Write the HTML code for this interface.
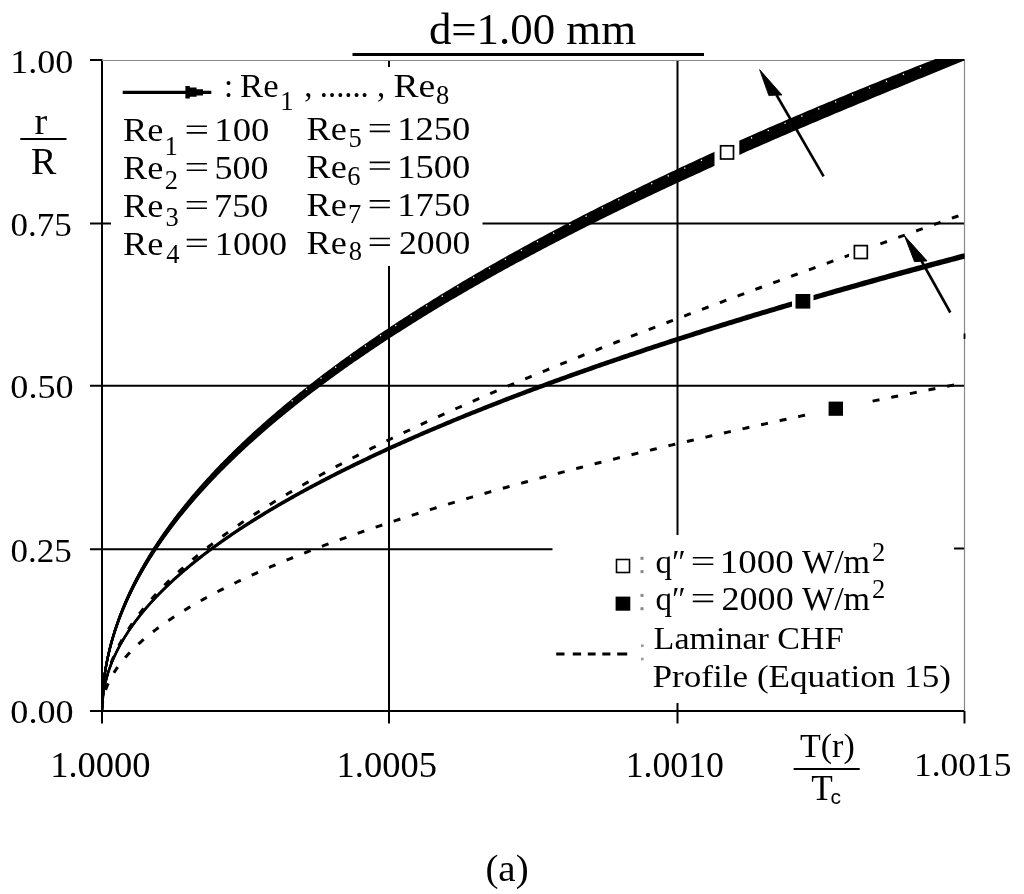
<!DOCTYPE html>
<html><head><meta charset="utf-8"><style>
html,body{margin:0;padding:0;background:#fff;overflow:hidden;width:1024px;height:894px;}
svg{display:block;will-change:transform;}
</style></head><body>
<svg width="1024" height="894" viewBox="0 0 1024 894">
<g stroke="#000" stroke-width="2" fill="none" stroke-linecap="butt">
<path d="M90,223.5 H111 M482.5,223.5 H964.5"/>
<path d="M90,385.7 H964.5"/>
<path d="M90,549.2 H552.5 M954,548.5 H964.5"/>
<path d="M90,60 H102"/>
<path d="M90,711 H964.5"/>
<path d="M102,59.5 V723.5"/>
<path d="M389,60 V67 M389,266 V723.5"/>
<path d="M677.5,60 V535 M677.5,703 V723.5"/>
<path d="M964.5,711 V723.5"/>
</g>
<path d="M102,60.5 H965 M964.5,60 V711" stroke="#888" stroke-width="1.2" fill="none"/>
<defs><clipPath id="pc"><rect x="101" y="59" width="864.5" height="653"/></clipPath></defs>
<g clip-path="url(#pc)" fill="none" stroke="#000">
<path d="M102.00,711.00 L102.01,709.38 L102.02,707.76 L102.05,706.14 L102.09,704.52 L102.13,702.90 L102.19,701.28 L102.26,699.66 L102.34,698.05 L102.44,696.43 L102.54,694.81 L102.65,693.19 L102.78,691.57 L102.91,689.95 L103.06,688.33 L103.21,686.71 L103.38,685.09 L103.56,683.47 L103.75,681.85 L103.95,680.23 L104.16,678.61 L104.38,676.99 L104.61,675.37 L104.85,673.75 L105.11,672.14 L105.37,670.52 L105.64,668.90 L105.93,667.28 L106.23,665.66 L106.53,664.04 L106.85,662.42 L107.18,660.80 L107.52,659.18 L107.87,657.56 L108.23,655.94 L108.60,654.32 L108.99,652.70 L109.38,651.08 L109.78,649.46 L110.20,647.84 L110.62,646.23 L111.06,644.61 L111.51,642.99 L111.97,641.37 L112.44,639.75 L112.92,638.13 L113.41,636.51 L113.91,634.89 L114.42,633.27 L114.94,631.65 L115.48,630.03 L116.02,628.41 L116.58,626.79 L117.14,625.17 L117.72,623.55 L118.31,621.94 L118.91,620.32 L119.51,618.70 L120.13,617.08 L120.76,615.46 L121.41,613.84 L122.06,612.22 L122.72,610.60 L123.40,608.98 L124.08,607.36 L124.78,605.74 L125.48,604.12 L126.20,602.50 L126.93,600.88 L127.66,599.26 L128.41,597.64 L129.17,596.03 L129.94,594.41 L130.73,592.79 L131.52,591.17 L132.32,589.55 L133.14,587.93 L133.96,586.31 L134.80,584.69 L135.64,583.07 L136.50,581.45 L137.37,579.83 L138.25,578.21 L139.14,576.59 L140.04,574.97 L140.95,573.35 L141.87,571.73 L142.80,570.12 L143.75,568.50 L144.70,566.88 L145.66,565.26 L146.64,563.64 L147.63,562.02 L148.62,560.40 L149.63,558.78 L150.65,557.16 L151.68,555.54 L152.72,553.92 L153.77,552.30 L154.83,550.68 L155.91,549.06 L156.99,547.44 L158.08,545.83 L159.19,544.21 L160.31,542.59 L161.43,540.97 L162.57,539.35 L163.72,537.73 L164.88,536.11 L166.05,534.49 L167.23,532.87 L168.42,531.25 L169.62,529.63 L170.83,528.01 L172.06,526.39 L173.29,524.77 L174.54,523.15 L175.79,521.53 L177.06,519.92 L178.34,518.30 L179.62,516.68 L180.92,515.06 L182.23,513.44 L183.55,511.82 L184.89,510.20 L186.23,508.58 L187.58,506.96 L188.95,505.34 L190.32,503.72 L191.71,502.10 L193.10,500.48 L194.51,498.86 L195.93,497.24 L197.35,495.62 L198.79,494.01 L200.24,492.39 L201.71,490.77 L203.18,489.15 L204.66,487.53 L206.15,485.91 L207.66,484.29 L209.17,482.67 L210.70,481.05 L212.23,479.43 L213.78,477.81 L215.34,476.19 L216.91,474.57 L218.49,472.95 L220.08,471.33 L221.68,469.71 L223.29,468.10 L224.91,466.48 L226.55,464.86 L228.19,463.24 L229.84,461.62 L231.51,460.00 L233.19,458.38 L234.87,456.76 L236.57,455.14 L238.28,453.52 L240.00,451.90 L241.73,450.28 L243.47,448.66 L245.22,447.04 L246.99,445.42 L248.76,443.81 L250.54,442.19 L252.34,440.57 L254.14,438.95 L255.96,437.33 L257.79,435.71 L259.63,434.09 L261.48,432.47 L263.34,430.85 L265.21,429.23 L267.09,427.61 L268.98,425.99 L270.88,424.37 L272.80,422.75 L274.72,421.13 L276.66,419.51 L278.60,417.90 L280.56,416.28 L282.53,414.66 L284.50,413.04 L286.49,411.42 L288.49,409.80 L290.50,408.18 L292.53,406.56 L294.56,404.94 L296.60,403.32 L298.66,401.70 L300.72,400.08 L302.80,398.46 L304.88,396.84 L306.98,395.22 L309.09,393.60 L311.20,391.99 L313.33,390.37 L315.47,388.75 L317.62,387.13 L319.79,385.51 L321.96,383.89 L324.14,382.27 L326.34,380.65 L328.54,379.03 L330.76,377.41 L332.98,375.79 L335.22,374.17 L337.47,372.55 L339.73,370.93 L342.00,369.31 L344.28,367.69 L346.57,366.07 L348.87,364.46 L351.18,362.84 L353.50,361.22 L355.84,359.60 L358.18,357.98 L360.54,356.36 L362.91,354.74 L365.28,353.12 L367.67,351.50 L370.07,349.88 L372.48,348.26 L374.90,346.64 L377.33,345.02 L379.77,343.40 L382.23,341.78 L384.69,340.16 L387.16,338.54 L389.65,336.92 L392.14,335.30 L394.65,333.69 L397.17,332.07 L399.70,330.45 L402.24,328.83 L404.79,327.21 L407.35,325.59 L409.92,323.97 L412.50,322.35 L415.09,320.73 L417.70,319.11 L420.31,317.49 L422.94,315.87 L425.57,314.25 L428.22,312.63 L430.88,311.01 L433.55,309.39 L436.22,307.77 L438.91,306.15 L441.61,304.53 L444.33,302.91 L447.05,301.29 L449.78,299.67 L452.53,298.05 L455.28,296.43 L458.05,294.81 L460.82,293.19 L463.61,291.57 L466.41,289.95 L469.21,288.33 L472.03,286.71 L474.86,285.09 L477.71,283.47 L480.56,281.85 L483.42,280.23 L486.29,278.61 L489.18,276.99 L492.07,275.37 L494.98,273.75 L497.89,272.13 L500.82,270.51 L503.76,268.89 L506.71,267.27 L509.67,265.65 L512.64,264.02 L515.62,262.40 L518.61,260.78 L521.61,259.16 L524.62,257.54 L527.65,255.92 L530.68,254.30 L533.73,252.68 L536.79,251.06 L539.85,249.43 L542.93,247.81 L546.02,246.19 L549.12,244.57 L552.23,242.95 L555.35,241.33 L558.48,239.70 L561.63,238.08 L564.78,236.46 L567.94,234.84 L571.12,233.21 L574.31,231.59 L577.50,229.97 L580.71,228.34 L583.93,226.72 L587.16,225.10 L590.40,223.47 L593.65,221.85 L596.91,220.23 L600.18,218.60 L603.46,216.98 L606.76,215.36 L610.06,213.73 L613.38,212.11 L616.70,210.48 L620.04,208.86 L623.39,207.23 L626.75,205.60 L630.11,203.98 L633.49,202.35 L636.88,200.73 L640.29,199.10 L643.70,197.47 L647.12,195.84 L650.56,194.22 L654.00,192.59 L657.46,190.96 L660.92,189.33 L664.40,187.70 L667.89,186.07 L671.38,184.44 L674.89,182.81 L678.41,181.18 L681.94,179.55 L685.49,177.92 L689.04,176.29 L692.60,174.66 L696.18,173.03 L699.76,171.39 L703.36,169.76 L706.96,168.12 L710.58,166.49 L714.21,164.85 L717.85,163.22 L721.50,161.58 L725.16,159.94 L728.83,158.31 L732.51,156.67 L736.20,155.03 L739.90,153.39 L743.62,151.75 L747.34,150.11 L751.08,148.47 L754.83,146.82 L758.58,145.18 L762.35,143.53 L766.13,141.89 L769.92,140.24 L773.72,138.60 L777.53,136.95 L781.35,135.30 L785.19,133.65 L789.03,132.00 L792.88,130.34 L796.75,128.69 L800.62,127.04 L804.51,125.38 L808.41,123.72 L812.32,122.07 L816.24,120.41 L820.17,118.74 L824.11,117.08 L828.06,115.42 L832.02,113.75 L835.99,112.09 L839.98,110.42 L843.97,108.75 L847.98,107.08 L851.99,105.40 L856.02,103.73 L860.06,102.05 L864.10,100.37 L868.16,98.69 L872.23,97.01 L876.31,95.32 L880.41,93.64 L884.51,91.95 L888.62,90.26 L892.75,88.56 L896.88,86.87 L901.03,85.17 L905.18,83.47 L909.35,81.76 L913.53,80.06 L917.71,78.35 L921.91,76.64 L926.12,74.92 L930.34,73.21 L934.58,71.49 L938.82,69.76 L943.07,68.04 L947.34,66.30 L951.61,64.57 L955.90,62.83 L960.19,61.09 L964.50,59.35" stroke-width="2.2"/>
<path d="M102.00,711.00 L102.01,709.38 L102.02,707.75 L102.05,706.13 L102.09,704.50 L102.13,702.88 L102.19,701.25 L102.26,699.63 L102.34,698.00 L102.44,696.38 L102.54,694.76 L102.65,693.13 L102.78,691.51 L102.91,689.88 L103.06,688.26 L103.21,686.63 L103.38,685.01 L103.56,683.38 L103.75,681.76 L103.95,680.13 L104.16,678.51 L104.38,676.89 L104.61,675.26 L104.85,673.64 L105.11,672.01 L105.37,670.39 L105.64,668.76 L105.93,667.14 L106.23,665.51 L106.53,663.89 L106.85,662.27 L107.18,660.64 L107.52,659.02 L107.87,657.39 L108.23,655.77 L108.60,654.14 L108.99,652.52 L109.38,650.89 L109.78,649.27 L110.20,647.65 L110.62,646.02 L111.06,644.40 L111.51,642.77 L111.97,641.15 L112.44,639.52 L112.92,637.90 L113.41,636.27 L113.91,634.65 L114.42,633.03 L114.94,631.40 L115.48,629.78 L116.02,628.15 L116.58,626.53 L117.14,624.90 L117.72,623.28 L118.31,621.65 L118.91,620.03 L119.51,618.40 L120.13,616.78 L120.76,615.16 L121.41,613.53 L122.06,611.91 L122.72,610.28 L123.40,608.66 L124.08,607.03 L124.78,605.41 L125.48,603.78 L126.20,602.16 L126.93,600.54 L127.66,598.91 L128.41,597.29 L129.17,595.66 L129.94,594.04 L130.73,592.41 L131.52,590.79 L132.32,589.16 L133.14,587.54 L133.96,585.92 L134.80,584.29 L135.64,582.67 L136.50,581.04 L137.37,579.42 L138.25,577.79 L139.14,576.17 L140.04,574.54 L140.95,572.92 L141.87,571.29 L142.80,569.67 L143.75,568.05 L144.70,566.42 L145.66,564.80 L146.64,563.17 L147.63,561.55 L148.62,559.92 L149.63,558.30 L150.65,556.67 L151.68,555.05 L152.72,553.43 L153.77,551.80 L154.83,550.18 L155.91,548.55 L156.99,546.93 L158.08,545.30 L159.19,543.68 L160.31,542.05 L161.43,540.43 L162.57,538.81 L163.72,537.18 L164.88,535.56 L166.05,533.93 L167.23,532.31 L168.42,530.68 L169.62,529.06 L170.83,527.43 L172.06,525.81 L173.29,524.19 L174.54,522.56 L175.79,520.94 L177.06,519.31 L178.34,517.69 L179.62,516.06 L180.92,514.44 L182.23,512.81 L183.55,511.19 L184.89,509.56 L186.23,507.94 L187.58,506.32 L188.95,504.69 L190.32,503.07 L191.71,501.44 L193.10,499.82 L194.51,498.19 L195.93,496.57 L197.35,494.94 L198.79,493.32 L200.24,491.70 L201.71,490.07 L203.18,488.45 L204.66,486.82 L206.15,485.20 L207.66,483.57 L209.17,481.95 L210.70,480.32 L212.23,478.70 L213.78,477.08 L215.34,475.45 L216.91,473.83 L218.49,472.20 L220.08,470.58 L221.68,468.95 L223.29,467.33 L224.91,465.70 L226.55,464.08 L228.19,462.45 L229.84,460.83 L231.51,459.21 L233.19,457.58 L234.87,455.96 L236.57,454.33 L238.28,452.71 L240.00,451.08 L241.73,449.46 L243.47,447.83 L245.22,446.21 L246.99,444.59 L248.76,442.96 L250.54,441.34 L252.34,439.71 L254.14,438.09 L255.96,436.46 L257.79,434.84 L259.63,433.21 L261.48,431.59 L263.34,429.97 L265.21,428.34 L267.09,426.72 L268.98,425.09 L270.88,423.47 L272.80,421.84 L274.72,420.22 L276.66,418.59 L278.60,416.97 L280.56,415.34 L282.53,413.72 L284.50,412.10 L286.49,410.47 L288.49,408.85 L290.50,407.22 L292.53,405.60 L294.56,403.97 L296.60,402.35 L298.66,400.72 L300.72,399.10 L302.80,397.48 L304.88,395.85 L306.98,394.23 L309.09,392.60 L311.20,390.98 L313.33,389.35 L315.47,387.73 L317.62,386.10 L319.79,384.48 L321.96,382.86 L324.14,381.23 L326.34,379.61 L328.54,377.98 L330.76,376.36 L332.98,374.73 L335.22,373.11 L337.47,371.48 L339.73,369.86 L342.00,368.23 L344.28,366.61 L346.57,364.99 L348.87,363.36 L351.18,361.74 L353.50,360.11 L355.84,358.49 L358.18,356.86 L360.54,355.24 L362.91,353.61 L365.28,351.99 L367.67,350.36 L370.07,348.74 L372.48,347.12 L374.90,345.49 L377.33,343.87 L379.77,342.24 L382.23,340.62 L384.69,338.99 L387.16,337.37 L389.65,335.74 L392.14,334.12 L394.65,332.49 L397.17,330.87 L399.70,329.24 L402.24,327.62 L404.79,326.00 L407.35,324.37 L409.92,322.75 L412.50,321.12 L415.09,319.50 L417.70,317.87 L420.31,316.25 L422.94,314.62 L425.57,313.00 L428.22,311.37 L430.88,309.75 L433.55,308.12 L436.22,306.50 L438.91,304.87 L441.61,303.25 L444.33,301.62 L447.05,300.00 L449.78,298.37 L452.53,296.75 L455.28,295.12 L458.05,293.50 L460.82,291.87 L463.61,290.25 L466.41,288.62 L469.21,287.00 L472.03,285.37 L474.86,283.75 L477.71,282.12 L480.56,280.50 L483.42,278.87 L486.29,277.25 L489.18,275.62 L492.07,274.00 L494.98,272.37 L497.89,270.75 L500.82,269.12 L503.76,267.49 L506.71,265.87 L509.67,264.24 L512.64,262.62 L515.62,260.99 L518.61,259.37 L521.61,257.74 L524.62,256.11 L527.65,254.49 L530.68,252.86 L533.73,251.24 L536.79,249.61 L539.85,247.98 L542.93,246.36 L546.02,244.73 L549.12,243.10 L552.23,241.48 L555.35,239.85 L558.48,238.22 L561.63,236.60 L564.78,234.97 L567.94,233.34 L571.12,231.72 L574.31,230.09 L577.50,228.46 L580.71,226.83 L583.93,225.21 L587.16,223.58 L590.40,221.95 L593.65,220.32 L596.91,218.69 L600.18,217.06 L603.46,215.44 L606.76,213.81 L610.06,212.18 L613.38,210.55 L616.70,208.92 L620.04,207.29 L623.39,205.66 L626.75,204.03 L630.11,202.40 L633.49,200.77 L636.88,199.14 L640.29,197.51 L643.70,195.88 L647.12,194.25 L650.56,192.61 L654.00,190.98 L657.46,189.35 L660.92,187.72 L664.40,186.09 L667.89,184.45 L671.38,182.82 L674.89,181.19 L678.41,179.55 L681.94,177.92 L685.49,176.28 L689.04,174.65 L692.60,173.01 L696.18,171.38 L699.76,169.74 L703.36,168.10 L706.96,166.47 L710.58,164.83 L714.21,163.19 L717.85,161.55 L721.50,159.91 L725.16,158.27 L728.83,156.63 L732.51,154.99 L736.20,153.35 L739.90,151.71 L743.62,150.07 L747.34,148.42 L751.08,146.78 L754.83,145.13 L758.58,143.49 L762.35,141.84 L766.13,140.20 L769.92,138.55 L773.72,136.90 L777.53,135.25 L781.35,133.60 L785.19,131.95 L789.03,130.30 L792.88,128.65 L796.75,126.99 L800.62,125.34 L804.51,123.68 L808.41,122.02 L812.32,120.37 L816.24,118.71 L820.17,117.05 L824.11,115.39 L828.06,113.72 L832.02,112.06 L835.99,110.39 L839.98,108.73 L843.97,107.06 L847.98,105.39 L851.99,103.72 L856.02,102.05 L860.06,100.37 L864.10,98.70 L868.16,97.02 L872.23,95.34 L876.31,93.66 L880.41,91.98 L884.51,90.30 L888.62,88.61 L892.75,86.92 L896.88,85.23 L901.03,83.54 L905.18,81.84 L909.35,80.15 L913.53,78.45 L917.71,76.75 L921.91,75.04 L926.12,73.34 L930.34,71.63 L934.58,69.92 L938.82,68.21 L943.07,66.49 L947.34,64.77 L951.61,63.05 L955.90,61.32 L960.19,59.59 L964.50,57.86" stroke-width="2.2"/>
<path d="M102.00,711.00 L102.01,709.37 L102.02,707.74 L102.05,706.11 L102.09,704.48 L102.13,702.85 L102.19,701.22 L102.26,699.59 L102.34,697.96 L102.44,696.33 L102.54,694.70 L102.65,693.07 L102.78,691.44 L102.91,689.82 L103.06,688.19 L103.21,686.56 L103.38,684.93 L103.56,683.30 L103.75,681.67 L103.95,680.04 L104.16,678.41 L104.38,676.78 L104.61,675.15 L104.85,673.52 L105.11,671.89 L105.37,670.26 L105.64,668.63 L105.93,667.00 L106.23,665.37 L106.53,663.74 L106.85,662.11 L107.18,660.48 L107.52,658.85 L107.87,657.22 L108.23,655.59 L108.60,653.96 L108.99,652.33 L109.38,650.71 L109.78,649.08 L110.20,647.45 L110.62,645.82 L111.06,644.19 L111.51,642.56 L111.97,640.93 L112.44,639.30 L112.92,637.67 L113.41,636.04 L113.91,634.41 L114.42,632.78 L114.94,631.15 L115.48,629.52 L116.02,627.89 L116.58,626.26 L117.14,624.63 L117.72,623.00 L118.31,621.37 L118.91,619.74 L119.51,618.11 L120.13,616.48 L120.76,614.85 L121.41,613.22 L122.06,611.59 L122.72,609.97 L123.40,608.34 L124.08,606.71 L124.78,605.08 L125.48,603.45 L126.20,601.82 L126.93,600.19 L127.66,598.56 L128.41,596.93 L129.17,595.30 L129.94,593.67 L130.73,592.04 L131.52,590.41 L132.32,588.78 L133.14,587.15 L133.96,585.52 L134.80,583.89 L135.64,582.26 L136.50,580.63 L137.37,579.00 L138.25,577.37 L139.14,575.74 L140.04,574.11 L140.95,572.48 L141.87,570.86 L142.80,569.23 L143.75,567.60 L144.70,565.97 L145.66,564.34 L146.64,562.71 L147.63,561.08 L148.62,559.45 L149.63,557.82 L150.65,556.19 L151.68,554.56 L152.72,552.93 L153.77,551.30 L154.83,549.67 L155.91,548.04 L156.99,546.41 L158.08,544.78 L159.19,543.15 L160.31,541.52 L161.43,539.89 L162.57,538.26 L163.72,536.63 L164.88,535.00 L166.05,533.37 L167.23,531.74 L168.42,530.12 L169.62,528.49 L170.83,526.86 L172.06,525.23 L173.29,523.60 L174.54,521.97 L175.79,520.34 L177.06,518.71 L178.34,517.08 L179.62,515.45 L180.92,513.82 L182.23,512.19 L183.55,510.56 L184.89,508.93 L186.23,507.30 L187.58,505.67 L188.95,504.04 L190.32,502.41 L191.71,500.78 L193.10,499.15 L194.51,497.52 L195.93,495.89 L197.35,494.26 L198.79,492.63 L200.24,491.01 L201.71,489.38 L203.18,487.75 L204.66,486.12 L206.15,484.49 L207.66,482.86 L209.17,481.23 L210.70,479.60 L212.23,477.97 L213.78,476.34 L215.34,474.71 L216.91,473.08 L218.49,471.45 L220.08,469.82 L221.68,468.19 L223.29,466.56 L224.91,464.93 L226.55,463.30 L228.19,461.67 L229.84,460.04 L231.51,458.41 L233.19,456.78 L234.87,455.15 L236.57,453.52 L238.28,451.89 L240.00,450.27 L241.73,448.64 L243.47,447.01 L245.22,445.38 L246.99,443.75 L248.76,442.12 L250.54,440.49 L252.34,438.86 L254.14,437.23 L255.96,435.60 L257.79,433.97 L259.63,432.34 L261.48,430.71 L263.34,429.08 L265.21,427.45 L267.09,425.82 L268.98,424.19 L270.88,422.56 L272.80,420.93 L274.72,419.30 L276.66,417.67 L278.60,416.04 L280.56,414.41 L282.53,412.78 L284.50,411.15 L286.49,409.53 L288.49,407.90 L290.50,406.27 L292.53,404.64 L294.56,403.01 L296.60,401.38 L298.66,399.75 L300.72,398.12 L302.80,396.49 L304.88,394.86 L306.98,393.23 L309.09,391.60 L311.20,389.97 L313.33,388.34 L315.47,386.71 L317.62,385.08 L319.79,383.45 L321.96,381.82 L324.14,380.19 L326.34,378.56 L328.54,376.93 L330.76,375.30 L332.98,373.67 L335.22,372.04 L337.47,370.41 L339.73,368.78 L342.00,367.16 L344.28,365.53 L346.57,363.90 L348.87,362.27 L351.18,360.64 L353.50,359.01 L355.84,357.38 L358.18,355.75 L360.54,354.12 L362.91,352.49 L365.28,350.86 L367.67,349.23 L370.07,347.60 L372.48,345.97 L374.90,344.34 L377.33,342.71 L379.77,341.08 L382.23,339.45 L384.69,337.82 L387.16,336.19 L389.65,334.56 L392.14,332.93 L394.65,331.30 L397.17,329.67 L399.70,328.04 L402.24,326.41 L404.79,324.78 L407.35,323.15 L409.92,321.52 L412.50,319.89 L415.09,318.26 L417.70,316.63 L420.31,315.00 L422.94,313.37 L425.57,311.75 L428.22,310.12 L430.88,308.49 L433.55,306.86 L436.22,305.23 L438.91,303.60 L441.61,301.97 L444.33,300.34 L447.05,298.71 L449.78,297.08 L452.53,295.45 L455.28,293.82 L458.05,292.19 L460.82,290.56 L463.61,288.93 L466.41,287.30 L469.21,285.67 L472.03,284.04 L474.86,282.41 L477.71,280.78 L480.56,279.14 L483.42,277.51 L486.29,275.88 L489.18,274.25 L492.07,272.62 L494.98,270.99 L497.89,269.36 L500.82,267.73 L503.76,266.10 L506.71,264.47 L509.67,262.84 L512.64,261.21 L515.62,259.58 L518.61,257.95 L521.61,256.32 L524.62,254.69 L527.65,253.06 L530.68,251.43 L533.73,249.79 L536.79,248.16 L539.85,246.53 L542.93,244.90 L546.02,243.27 L549.12,241.64 L552.23,240.01 L555.35,238.38 L558.48,236.74 L561.63,235.11 L564.78,233.48 L567.94,231.85 L571.12,230.22 L574.31,228.58 L577.50,226.95 L580.71,225.32 L583.93,223.69 L587.16,222.06 L590.40,220.42 L593.65,218.79 L596.91,217.16 L600.18,215.53 L603.46,213.89 L606.76,212.26 L610.06,210.63 L613.38,208.99 L616.70,207.36 L620.04,205.72 L623.39,204.09 L626.75,202.46 L630.11,200.82 L633.49,199.19 L636.88,197.55 L640.29,195.92 L643.70,194.28 L647.12,192.65 L650.56,191.01 L654.00,189.38 L657.46,187.74 L660.92,186.10 L664.40,184.47 L667.89,182.83 L671.38,181.19 L674.89,179.56 L678.41,177.92 L681.94,176.28 L685.49,174.64 L689.04,173.01 L692.60,171.37 L696.18,169.73 L699.76,168.09 L703.36,166.45 L706.96,164.81 L710.58,163.17 L714.21,161.53 L717.85,159.89 L721.50,158.24 L725.16,156.60 L728.83,154.96 L732.51,153.32 L736.20,151.67 L739.90,150.03 L743.62,148.38 L747.34,146.74 L751.08,145.09 L754.83,143.45 L758.58,141.80 L762.35,140.15 L766.13,138.50 L769.92,136.85 L773.72,135.20 L777.53,133.55 L781.35,131.90 L785.19,130.25 L789.03,128.60 L792.88,126.95 L796.75,125.29 L800.62,123.64 L804.51,121.98 L808.41,120.33 L812.32,118.67 L816.24,117.01 L820.17,115.35 L824.11,113.69 L828.06,112.03 L832.02,110.37 L835.99,108.70 L839.98,107.04 L843.97,105.37 L847.98,103.71 L851.99,102.04 L856.02,100.37 L860.06,98.70 L864.10,97.03 L868.16,95.35 L872.23,93.68 L876.31,92.00 L880.41,90.32 L884.51,88.64 L888.62,86.96 L892.75,85.28 L896.88,83.60 L901.03,81.91 L905.18,80.22 L909.35,78.53 L913.53,76.84 L917.71,75.15 L921.91,73.45 L926.12,71.75 L930.34,70.05 L934.58,68.35 L938.82,66.65 L943.07,64.94 L947.34,63.23 L951.61,61.52 L955.90,59.81 L960.19,58.09 L964.50,56.37" stroke-width="2.2"/>
<path d="M102.00,711.00 L102.01,709.37 L102.02,707.73 L102.05,706.10 L102.09,704.46 L102.13,702.83 L102.19,701.19 L102.26,699.56 L102.34,697.92 L102.44,696.29 L102.54,694.65 L102.65,693.02 L102.78,691.38 L102.91,689.75 L103.06,688.11 L103.21,686.48 L103.38,684.84 L103.56,683.21 L103.75,681.58 L103.95,679.94 L104.16,678.31 L104.38,676.67 L104.61,675.04 L104.85,673.40 L105.11,671.77 L105.37,670.13 L105.64,668.50 L105.93,666.86 L106.23,665.23 L106.53,663.59 L106.85,661.96 L107.18,660.32 L107.52,658.69 L107.87,657.05 L108.23,655.42 L108.60,653.79 L108.99,652.15 L109.38,650.52 L109.78,648.88 L110.20,647.25 L110.62,645.61 L111.06,643.98 L111.51,642.34 L111.97,640.71 L112.44,639.07 L112.92,637.44 L113.41,635.80 L113.91,634.17 L114.42,632.53 L114.94,630.90 L115.48,629.26 L116.02,627.63 L116.58,626.00 L117.14,624.36 L117.72,622.73 L118.31,621.09 L118.91,619.46 L119.51,617.82 L120.13,616.19 L120.76,614.55 L121.41,612.92 L122.06,611.28 L122.72,609.65 L123.40,608.01 L124.08,606.38 L124.78,604.74 L125.48,603.11 L126.20,601.47 L126.93,599.84 L127.66,598.21 L128.41,596.57 L129.17,594.94 L129.94,593.30 L130.73,591.67 L131.52,590.03 L132.32,588.40 L133.14,586.76 L133.96,585.13 L134.80,583.49 L135.64,581.86 L136.50,580.22 L137.37,578.59 L138.25,576.95 L139.14,575.32 L140.04,573.68 L140.95,572.05 L141.87,570.42 L142.80,568.78 L143.75,567.15 L144.70,565.51 L145.66,563.88 L146.64,562.24 L147.63,560.61 L148.62,558.97 L149.63,557.34 L150.65,555.70 L151.68,554.07 L152.72,552.43 L153.77,550.80 L154.83,549.16 L155.91,547.53 L156.99,545.89 L158.08,544.26 L159.19,542.63 L160.31,540.99 L161.43,539.36 L162.57,537.72 L163.72,536.09 L164.88,534.45 L166.05,532.82 L167.23,531.18 L168.42,529.55 L169.62,527.91 L170.83,526.28 L172.06,524.64 L173.29,523.01 L174.54,521.37 L175.79,519.74 L177.06,518.10 L178.34,516.47 L179.62,514.84 L180.92,513.20 L182.23,511.57 L183.55,509.93 L184.89,508.30 L186.23,506.66 L187.58,505.03 L188.95,503.39 L190.32,501.76 L191.71,500.12 L193.10,498.49 L194.51,496.85 L195.93,495.22 L197.35,493.58 L198.79,491.95 L200.24,490.31 L201.71,488.68 L203.18,487.05 L204.66,485.41 L206.15,483.78 L207.66,482.14 L209.17,480.51 L210.70,478.87 L212.23,477.24 L213.78,475.60 L215.34,473.97 L216.91,472.33 L218.49,470.70 L220.08,469.06 L221.68,467.43 L223.29,465.79 L224.91,464.16 L226.55,462.52 L228.19,460.89 L229.84,459.26 L231.51,457.62 L233.19,455.99 L234.87,454.35 L236.57,452.72 L238.28,451.08 L240.00,449.45 L241.73,447.81 L243.47,446.18 L245.22,444.54 L246.99,442.91 L248.76,441.27 L250.54,439.64 L252.34,438.00 L254.14,436.37 L255.96,434.73 L257.79,433.10 L259.63,431.46 L261.48,429.83 L263.34,428.20 L265.21,426.56 L267.09,424.93 L268.98,423.29 L270.88,421.66 L272.80,420.02 L274.72,418.39 L276.66,416.75 L278.60,415.12 L280.56,413.48 L282.53,411.85 L284.50,410.21 L286.49,408.58 L288.49,406.94 L290.50,405.31 L292.53,403.67 L294.56,402.04 L296.60,400.41 L298.66,398.77 L300.72,397.14 L302.80,395.50 L304.88,393.87 L306.98,392.23 L309.09,390.60 L311.20,388.96 L313.33,387.33 L315.47,385.69 L317.62,384.06 L319.79,382.42 L321.96,380.79 L324.14,379.15 L326.34,377.52 L328.54,375.88 L330.76,374.25 L332.98,372.62 L335.22,370.98 L337.47,369.35 L339.73,367.71 L342.00,366.08 L344.28,364.44 L346.57,362.81 L348.87,361.17 L351.18,359.54 L353.50,357.90 L355.84,356.27 L358.18,354.63 L360.54,353.00 L362.91,351.36 L365.28,349.73 L367.67,348.09 L370.07,346.46 L372.48,344.82 L374.90,343.19 L377.33,341.55 L379.77,339.92 L382.23,338.29 L384.69,336.65 L387.16,335.02 L389.65,333.38 L392.14,331.75 L394.65,330.11 L397.17,328.48 L399.70,326.84 L402.24,325.21 L404.79,323.57 L407.35,321.94 L409.92,320.30 L412.50,318.67 L415.09,317.03 L417.70,315.40 L420.31,313.76 L422.94,312.13 L425.57,310.49 L428.22,308.86 L430.88,307.22 L433.55,305.59 L436.22,303.95 L438.91,302.32 L441.61,300.68 L444.33,299.05 L447.05,297.41 L449.78,295.78 L452.53,294.14 L455.28,292.51 L458.05,290.87 L460.82,289.24 L463.61,287.60 L466.41,285.97 L469.21,284.33 L472.03,282.70 L474.86,281.06 L477.71,279.43 L480.56,277.79 L483.42,276.16 L486.29,274.52 L489.18,272.89 L492.07,271.25 L494.98,269.62 L497.89,267.98 L500.82,266.34 L503.76,264.71 L506.71,263.07 L509.67,261.44 L512.64,259.80 L515.62,258.17 L518.61,256.53 L521.61,254.90 L524.62,253.26 L527.65,251.62 L530.68,249.99 L533.73,248.35 L536.79,246.72 L539.85,245.08 L542.93,243.45 L546.02,241.81 L549.12,240.17 L552.23,238.54 L555.35,236.90 L558.48,235.26 L561.63,233.63 L564.78,231.99 L567.94,230.36 L571.12,228.72 L574.31,227.08 L577.50,225.45 L580.71,223.81 L583.93,222.17 L587.16,220.53 L590.40,218.90 L593.65,217.26 L596.91,215.62 L600.18,213.99 L603.46,212.35 L606.76,210.71 L610.06,209.07 L613.38,207.44 L616.70,205.80 L620.04,204.16 L623.39,202.52 L626.75,200.88 L630.11,199.24 L633.49,197.61 L636.88,195.97 L640.29,194.33 L643.70,192.69 L647.12,191.05 L650.56,189.41 L654.00,187.77 L657.46,186.13 L660.92,184.49 L664.40,182.85 L667.89,181.21 L671.38,179.57 L674.89,177.93 L678.41,176.29 L681.94,174.65 L685.49,173.01 L689.04,171.36 L692.60,169.72 L696.18,168.08 L699.76,166.44 L703.36,164.79 L706.96,163.15 L710.58,161.51 L714.21,159.86 L717.85,158.22 L721.50,156.57 L725.16,154.93 L728.83,153.28 L732.51,151.64 L736.20,149.99 L739.90,148.35 L743.62,146.70 L747.34,145.05 L751.08,143.40 L754.83,141.76 L758.58,140.11 L762.35,138.46 L766.13,136.81 L769.92,135.16 L773.72,133.51 L777.53,131.86 L781.35,130.21 L785.19,128.55 L789.03,126.90 L792.88,125.25 L796.75,123.59 L800.62,121.94 L804.51,120.28 L808.41,118.63 L812.32,116.97 L816.24,115.31 L820.17,113.65 L824.11,111.99 L828.06,110.33 L832.02,108.67 L835.99,107.01 L839.98,105.35 L843.97,103.68 L847.98,102.02 L851.99,100.35 L856.02,98.69 L860.06,97.02 L864.10,95.35 L868.16,93.68 L872.23,92.01 L876.31,90.34 L880.41,88.67 L884.51,86.99 L888.62,85.32 L892.75,83.64 L896.88,81.96 L901.03,80.28 L905.18,78.60 L909.35,76.92 L913.53,75.23 L917.71,73.55 L921.91,71.86 L926.12,70.17 L930.34,68.48 L934.58,66.79 L938.82,65.09 L943.07,63.40 L947.34,61.70 L951.61,60.00 L955.90,58.30 L960.19,56.59 L964.50,54.88" stroke-width="2.2"/>
<path d="M102.00,711.00 L102.01,709.36 L102.02,707.72 L102.05,706.08 L102.09,704.44 L102.13,702.80 L102.19,701.16 L102.26,699.52 L102.34,697.88 L102.44,696.24 L102.54,694.60 L102.65,692.96 L102.78,691.32 L102.91,689.68 L103.06,688.04 L103.21,686.40 L103.38,684.76 L103.56,683.12 L103.75,681.48 L103.95,679.84 L104.16,678.20 L104.38,676.56 L104.61,674.92 L104.85,673.28 L105.11,671.64 L105.37,670.00 L105.64,668.36 L105.93,666.72 L106.23,665.08 L106.53,663.45 L106.85,661.81 L107.18,660.17 L107.52,658.53 L107.87,656.89 L108.23,655.25 L108.60,653.61 L108.99,651.97 L109.38,650.33 L109.78,648.69 L110.20,647.05 L110.62,645.41 L111.06,643.77 L111.51,642.13 L111.97,640.49 L112.44,638.85 L112.92,637.21 L113.41,635.57 L113.91,633.93 L114.42,632.29 L114.94,630.65 L115.48,629.01 L116.02,627.37 L116.58,625.73 L117.14,624.09 L117.72,622.45 L118.31,620.81 L118.91,619.17 L119.51,617.53 L120.13,615.89 L120.76,614.25 L121.41,612.61 L122.06,610.97 L122.72,609.33 L123.40,607.69 L124.08,606.05 L124.78,604.41 L125.48,602.77 L126.20,601.13 L126.93,599.49 L127.66,597.85 L128.41,596.21 L129.17,594.57 L129.94,592.93 L130.73,591.29 L131.52,589.65 L132.32,588.01 L133.14,586.37 L133.96,584.73 L134.80,583.09 L135.64,581.45 L136.50,579.81 L137.37,578.17 L138.25,576.53 L139.14,574.89 L140.04,573.25 L140.95,571.62 L141.87,569.98 L142.80,568.34 L143.75,566.70 L144.70,565.06 L145.66,563.42 L146.64,561.78 L147.63,560.14 L148.62,558.50 L149.63,556.86 L150.65,555.22 L151.68,553.58 L152.72,551.94 L153.77,550.30 L154.83,548.66 L155.91,547.02 L156.99,545.38 L158.08,543.74 L159.19,542.10 L160.31,540.46 L161.43,538.82 L162.57,537.18 L163.72,535.54 L164.88,533.90 L166.05,532.26 L167.23,530.62 L168.42,528.98 L169.62,527.34 L170.83,525.70 L172.06,524.06 L173.29,522.42 L174.54,520.78 L175.79,519.14 L177.06,517.50 L178.34,515.86 L179.62,514.22 L180.92,512.58 L182.23,510.94 L183.55,509.30 L184.89,507.66 L186.23,506.02 L187.58,504.38 L188.95,502.74 L190.32,501.10 L191.71,499.46 L193.10,497.82 L194.51,496.18 L195.93,494.54 L197.35,492.90 L198.79,491.26 L200.24,489.62 L201.71,487.98 L203.18,486.34 L204.66,484.70 L206.15,483.06 L207.66,481.42 L209.17,479.79 L210.70,478.15 L212.23,476.51 L213.78,474.87 L215.34,473.23 L216.91,471.59 L218.49,469.95 L220.08,468.31 L221.68,466.67 L223.29,465.03 L224.91,463.39 L226.55,461.75 L228.19,460.11 L229.84,458.47 L231.51,456.83 L233.19,455.19 L234.87,453.55 L236.57,451.91 L238.28,450.27 L240.00,448.63 L241.73,446.99 L243.47,445.35 L245.22,443.71 L246.99,442.07 L248.76,440.43 L250.54,438.79 L252.34,437.15 L254.14,435.51 L255.96,433.87 L257.79,432.23 L259.63,430.59 L261.48,428.95 L263.34,427.31 L265.21,425.67 L267.09,424.03 L268.98,422.39 L270.88,420.75 L272.80,419.11 L274.72,417.47 L276.66,415.83 L278.60,414.19 L280.56,412.55 L282.53,410.91 L284.50,409.27 L286.49,407.63 L288.49,405.99 L290.50,404.35 L292.53,402.71 L294.56,401.07 L296.60,399.43 L298.66,397.79 L300.72,396.15 L302.80,394.51 L304.88,392.87 L306.98,391.23 L309.09,389.59 L311.20,387.95 L313.33,386.31 L315.47,384.68 L317.62,383.04 L319.79,381.40 L321.96,379.76 L324.14,378.12 L326.34,376.48 L328.54,374.84 L330.76,373.20 L332.98,371.56 L335.22,369.92 L337.47,368.28 L339.73,366.64 L342.00,365.00 L344.28,363.36 L346.57,361.72 L348.87,360.08 L351.18,358.44 L353.50,356.80 L355.84,355.16 L358.18,353.52 L360.54,351.88 L362.91,350.24 L365.28,348.60 L367.67,346.96 L370.07,345.32 L372.48,343.68 L374.90,342.04 L377.33,340.40 L379.77,338.76 L382.23,337.12 L384.69,335.48 L387.16,333.84 L389.65,332.20 L392.14,330.56 L394.65,328.92 L397.17,327.28 L399.70,325.64 L402.24,324.00 L404.79,322.36 L407.35,320.72 L409.92,319.08 L412.50,317.44 L415.09,315.80 L417.70,314.16 L420.31,312.52 L422.94,310.88 L425.57,309.24 L428.22,307.60 L430.88,305.96 L433.55,304.32 L436.22,302.68 L438.91,301.04 L441.61,299.40 L444.33,297.76 L447.05,296.12 L449.78,294.48 L452.53,292.84 L455.28,291.20 L458.05,289.56 L460.82,287.92 L463.61,286.28 L466.41,284.64 L469.21,283.00 L472.03,281.36 L474.86,279.72 L477.71,278.08 L480.56,276.44 L483.42,274.80 L486.29,273.16 L489.18,271.52 L492.07,269.88 L494.98,268.24 L497.89,266.60 L500.82,264.96 L503.76,263.32 L506.71,261.68 L509.67,260.04 L512.64,258.40 L515.62,256.76 L518.61,255.11 L521.61,253.47 L524.62,251.83 L527.65,250.19 L530.68,248.55 L533.73,246.91 L536.79,245.27 L539.85,243.63 L542.93,241.99 L546.02,240.35 L549.12,238.71 L552.23,237.07 L555.35,235.43 L558.48,233.78 L561.63,232.14 L564.78,230.50 L567.94,228.86 L571.12,227.22 L574.31,225.58 L577.50,223.94 L580.71,222.30 L583.93,220.65 L587.16,219.01 L590.40,217.37 L593.65,215.73 L596.91,214.09 L600.18,212.45 L603.46,210.80 L606.76,209.16 L610.06,207.52 L613.38,205.88 L616.70,204.24 L620.04,202.59 L623.39,200.95 L626.75,199.31 L630.11,197.67 L633.49,196.02 L636.88,194.38 L640.29,192.74 L643.70,191.09 L647.12,189.45 L650.56,187.81 L654.00,186.16 L657.46,184.52 L660.92,182.88 L664.40,181.23 L667.89,179.59 L671.38,177.95 L674.89,176.30 L678.41,174.66 L681.94,173.01 L685.49,171.37 L689.04,169.72 L692.60,168.08 L696.18,166.43 L699.76,164.78 L703.36,163.14 L706.96,161.49 L710.58,159.85 L714.21,158.20 L717.85,156.55 L721.50,154.91 L725.16,153.26 L728.83,151.61 L732.51,149.96 L736.20,148.31 L739.90,146.67 L743.62,145.02 L747.34,143.37 L751.08,141.72 L754.83,140.07 L758.58,138.42 L762.35,136.77 L766.13,135.12 L769.92,133.46 L773.72,131.81 L777.53,130.16 L781.35,128.51 L785.19,126.86 L789.03,125.20 L792.88,123.55 L796.75,121.89 L800.62,120.24 L804.51,118.58 L808.41,116.93 L812.32,115.27 L816.24,113.61 L820.17,111.96 L824.11,110.30 L828.06,108.64 L832.02,106.98 L835.99,105.32 L839.98,103.66 L843.97,102.00 L847.98,100.33 L851.99,98.67 L856.02,97.01 L860.06,95.34 L864.10,93.68 L868.16,92.01 L872.23,90.34 L876.31,88.68 L880.41,87.01 L884.51,85.34 L888.62,83.67 L892.75,82.00 L896.88,80.32 L901.03,78.65 L905.18,76.98 L909.35,75.30 L913.53,73.62 L917.71,71.94 L921.91,70.26 L926.12,68.58 L930.34,66.90 L934.58,65.22 L938.82,63.53 L943.07,61.85 L947.34,60.16 L951.61,58.47 L955.90,56.78 L960.19,55.09 L964.50,53.40" stroke-width="2.2"/>
<path d="M102.00,711.00 L102.01,709.36 L102.02,707.71 L102.05,706.07 L102.09,704.42 L102.13,702.78 L102.19,701.13 L102.26,699.49 L102.34,697.84 L102.44,696.20 L102.54,694.55 L102.65,692.91 L102.78,691.26 L102.91,689.62 L103.06,687.97 L103.21,686.33 L103.38,684.68 L103.56,683.04 L103.75,681.39 L103.95,679.75 L104.16,678.10 L104.38,676.46 L104.61,674.81 L104.85,673.17 L105.11,671.52 L105.37,669.88 L105.64,668.23 L105.93,666.59 L106.23,664.94 L106.53,663.30 L106.85,661.65 L107.18,660.01 L107.52,658.36 L107.87,656.72 L108.23,655.07 L108.60,653.43 L108.99,651.78 L109.38,650.14 L109.78,648.49 L110.20,646.85 L110.62,645.20 L111.06,643.56 L111.51,641.91 L111.97,640.27 L112.44,638.62 L112.92,636.98 L113.41,635.33 L113.91,633.69 L114.42,632.04 L114.94,630.40 L115.48,628.75 L116.02,627.11 L116.58,625.46 L117.14,623.82 L117.72,622.17 L118.31,620.53 L118.91,618.88 L119.51,617.24 L120.13,615.59 L120.76,613.95 L121.41,612.30 L122.06,610.66 L122.72,609.01 L123.40,607.37 L124.08,605.72 L124.78,604.08 L125.48,602.43 L126.20,600.79 L126.93,599.14 L127.66,597.50 L128.41,595.85 L129.17,594.21 L129.94,592.56 L130.73,590.92 L131.52,589.27 L132.32,587.63 L133.14,585.98 L133.96,584.34 L134.80,582.69 L135.64,581.05 L136.50,579.40 L137.37,577.76 L138.25,576.12 L139.14,574.47 L140.04,572.83 L140.95,571.18 L141.87,569.54 L142.80,567.89 L143.75,566.25 L144.70,564.60 L145.66,562.96 L146.64,561.31 L147.63,559.67 L148.62,558.02 L149.63,556.38 L150.65,554.73 L151.68,553.09 L152.72,551.44 L153.77,549.80 L154.83,548.15 L155.91,546.51 L156.99,544.86 L158.08,543.22 L159.19,541.57 L160.31,539.93 L161.43,538.28 L162.57,536.64 L163.72,534.99 L164.88,533.35 L166.05,531.70 L167.23,530.06 L168.42,528.41 L169.62,526.77 L170.83,525.12 L172.06,523.48 L173.29,521.83 L174.54,520.19 L175.79,518.54 L177.06,516.90 L178.34,515.25 L179.62,513.61 L180.92,511.96 L182.23,510.32 L183.55,508.67 L184.89,507.03 L186.23,505.38 L187.58,503.74 L188.95,502.09 L190.32,500.45 L191.71,498.80 L193.10,497.16 L194.51,495.51 L195.93,493.87 L197.35,492.22 L198.79,490.58 L200.24,488.93 L201.71,487.29 L203.18,485.64 L204.66,484.00 L206.15,482.35 L207.66,480.71 L209.17,479.06 L210.70,477.42 L212.23,475.77 L213.78,474.13 L215.34,472.48 L216.91,470.84 L218.49,469.19 L220.08,467.55 L221.68,465.90 L223.29,464.26 L224.91,462.61 L226.55,460.97 L228.19,459.32 L229.84,457.68 L231.51,456.03 L233.19,454.39 L234.87,452.74 L236.57,451.10 L238.28,449.45 L240.00,447.81 L241.73,446.17 L243.47,444.52 L245.22,442.88 L246.99,441.23 L248.76,439.59 L250.54,437.94 L252.34,436.30 L254.14,434.65 L255.96,433.01 L257.79,431.36 L259.63,429.72 L261.48,428.07 L263.34,426.43 L265.21,424.78 L267.09,423.14 L268.98,421.49 L270.88,419.85 L272.80,418.20 L274.72,416.56 L276.66,414.91 L278.60,413.27 L280.56,411.62 L282.53,409.98 L284.50,408.33 L286.49,406.69 L288.49,405.04 L290.50,403.40 L292.53,401.75 L294.56,400.11 L296.60,398.46 L298.66,396.82 L300.72,395.17 L302.80,393.53 L304.88,391.88 L306.98,390.24 L309.09,388.59 L311.20,386.95 L313.33,385.30 L315.47,383.66 L317.62,382.01 L319.79,380.37 L321.96,378.72 L324.14,377.08 L326.34,375.43 L328.54,373.79 L330.76,372.14 L332.98,370.50 L335.22,368.85 L337.47,367.21 L339.73,365.56 L342.00,363.92 L344.28,362.27 L346.57,360.63 L348.87,358.98 L351.18,357.34 L353.50,355.69 L355.84,354.05 L358.18,352.40 L360.54,350.76 L362.91,349.11 L365.28,347.47 L367.67,345.82 L370.07,344.18 L372.48,342.53 L374.90,340.89 L377.33,339.24 L379.77,337.60 L382.23,335.95 L384.69,334.31 L387.16,332.66 L389.65,331.02 L392.14,329.37 L394.65,327.73 L397.17,326.08 L399.70,324.44 L402.24,322.79 L404.79,321.15 L407.35,319.50 L409.92,317.86 L412.50,316.21 L415.09,314.57 L417.70,312.92 L420.31,311.28 L422.94,309.63 L425.57,307.99 L428.22,306.34 L430.88,304.70 L433.55,303.05 L436.22,301.41 L438.91,299.76 L441.61,298.12 L444.33,296.47 L447.05,294.83 L449.78,293.18 L452.53,291.54 L455.28,289.89 L458.05,288.25 L460.82,286.60 L463.61,284.96 L466.41,283.31 L469.21,281.67 L472.03,280.02 L474.86,278.38 L477.71,276.73 L480.56,275.09 L483.42,273.44 L486.29,271.80 L489.18,270.15 L492.07,268.51 L494.98,266.86 L497.89,265.21 L500.82,263.57 L503.76,261.92 L506.71,260.28 L509.67,258.63 L512.64,256.99 L515.62,255.34 L518.61,253.70 L521.61,252.05 L524.62,250.41 L527.65,248.76 L530.68,247.12 L533.73,245.47 L536.79,243.82 L539.85,242.18 L542.93,240.53 L546.02,238.89 L549.12,237.24 L552.23,235.60 L555.35,233.95 L558.48,232.31 L561.63,230.66 L564.78,229.01 L567.94,227.37 L571.12,225.72 L574.31,224.08 L577.50,222.43 L580.71,220.78 L583.93,219.14 L587.16,217.49 L590.40,215.85 L593.65,214.20 L596.91,212.55 L600.18,210.91 L603.46,209.26 L606.76,207.61 L610.06,205.97 L613.38,204.32 L616.70,202.68 L620.04,201.03 L623.39,199.38 L626.75,197.74 L630.11,196.09 L633.49,194.44 L636.88,192.79 L640.29,191.15 L643.70,189.50 L647.12,187.85 L650.56,186.21 L654.00,184.56 L657.46,182.91 L660.92,181.26 L664.40,179.62 L667.89,177.97 L671.38,176.32 L674.89,174.67 L678.41,173.02 L681.94,171.38 L685.49,169.73 L689.04,168.08 L692.60,166.43 L696.18,164.78 L699.76,163.13 L703.36,161.48 L706.96,159.83 L710.58,158.19 L714.21,156.54 L717.85,154.89 L721.50,153.24 L725.16,151.59 L728.83,149.94 L732.51,148.29 L736.20,146.64 L739.90,144.98 L743.62,143.33 L747.34,141.68 L751.08,140.03 L754.83,138.38 L758.58,136.73 L762.35,135.08 L766.13,133.42 L769.92,131.77 L773.72,130.12 L777.53,128.46 L781.35,126.81 L785.19,125.16 L789.03,123.50 L792.88,121.85 L796.75,120.19 L800.62,118.54 L804.51,116.88 L808.41,115.23 L812.32,113.57 L816.24,111.92 L820.17,110.26 L824.11,108.60 L828.06,106.94 L832.02,105.29 L835.99,103.63 L839.98,101.97 L843.97,100.31 L847.98,98.65 L851.99,96.99 L856.02,95.33 L860.06,93.67 L864.10,92.00 L868.16,90.34 L872.23,88.68 L876.31,87.02 L880.41,85.35 L884.51,83.69 L888.62,82.02 L892.75,80.35 L896.88,78.69 L901.03,77.02 L905.18,75.35 L909.35,73.68 L913.53,72.01 L917.71,70.34 L921.91,68.67 L926.12,67.00 L930.34,65.33 L934.58,63.65 L938.82,61.98 L943.07,60.30 L947.34,58.63 L951.61,56.95 L955.90,55.27 L960.19,53.59 L964.50,51.91" stroke-width="2.2"/>
<path d="M102.00,711.00 L102.01,709.35 L102.02,707.70 L102.05,706.05 L102.09,704.40 L102.13,702.75 L102.19,701.10 L102.26,699.45 L102.34,697.80 L102.44,696.15 L102.54,694.50 L102.65,692.85 L102.78,691.20 L102.91,689.55 L103.06,687.90 L103.21,686.25 L103.38,684.60 L103.56,682.95 L103.75,681.30 L103.95,679.65 L104.16,678.00 L104.38,676.35 L104.61,674.70 L104.85,673.05 L105.11,671.40 L105.37,669.75 L105.64,668.10 L105.93,666.45 L106.23,664.80 L106.53,663.15 L106.85,661.50 L107.18,659.85 L107.52,658.20 L107.87,656.55 L108.23,654.90 L108.60,653.25 L108.99,651.60 L109.38,649.95 L109.78,648.30 L110.20,646.65 L110.62,645.00 L111.06,643.35 L111.51,641.70 L111.97,640.05 L112.44,638.40 L112.92,636.75 L113.41,635.10 L113.91,633.45 L114.42,631.80 L114.94,630.15 L115.48,628.50 L116.02,626.85 L116.58,625.20 L117.14,623.55 L117.72,621.90 L118.31,620.25 L118.91,618.60 L119.51,616.95 L120.13,615.30 L120.76,613.65 L121.41,612.00 L122.06,610.35 L122.72,608.70 L123.40,607.05 L124.08,605.40 L124.78,603.75 L125.48,602.10 L126.20,600.45 L126.93,598.80 L127.66,597.15 L128.41,595.50 L129.17,593.85 L129.94,592.20 L130.73,590.55 L131.52,588.90 L132.32,587.25 L133.14,585.60 L133.96,583.95 L134.80,582.30 L135.64,580.65 L136.50,579.00 L137.37,577.35 L138.25,575.70 L139.14,574.05 L140.04,572.40 L140.95,570.75 L141.87,569.10 L142.80,567.45 L143.75,565.80 L144.70,564.15 L145.66,562.50 L146.64,560.85 L147.63,559.20 L148.62,557.55 L149.63,555.90 L150.65,554.25 L151.68,552.59 L152.72,550.94 L153.77,549.29 L154.83,547.64 L155.91,545.99 L156.99,544.34 L158.08,542.69 L159.19,541.04 L160.31,539.39 L161.43,537.74 L162.57,536.09 L163.72,534.44 L164.88,532.79 L166.05,531.14 L167.23,529.49 L168.42,527.84 L169.62,526.19 L170.83,524.54 L172.06,522.89 L173.29,521.24 L174.54,519.59 L175.79,517.94 L177.06,516.29 L178.34,514.64 L179.62,512.99 L180.92,511.34 L182.23,509.69 L183.55,508.04 L184.89,506.39 L186.23,504.74 L187.58,503.09 L188.95,501.44 L190.32,499.79 L191.71,498.14 L193.10,496.49 L194.51,494.84 L195.93,493.19 L197.35,491.54 L198.79,489.89 L200.24,488.24 L201.71,486.59 L203.18,484.94 L204.66,483.29 L206.15,481.64 L207.66,479.99 L209.17,478.34 L210.70,476.69 L212.23,475.04 L213.78,473.39 L215.34,471.74 L216.91,470.09 L218.49,468.44 L220.08,466.79 L221.68,465.14 L223.29,463.49 L224.91,461.84 L226.55,460.19 L228.19,458.54 L229.84,456.89 L231.51,455.24 L233.19,453.59 L234.87,451.94 L236.57,450.29 L238.28,448.64 L240.00,446.99 L241.73,445.34 L243.47,443.69 L245.22,442.04 L246.99,440.39 L248.76,438.74 L250.54,437.09 L252.34,435.44 L254.14,433.79 L255.96,432.14 L257.79,430.49 L259.63,428.84 L261.48,427.19 L263.34,425.54 L265.21,423.89 L267.09,422.24 L268.98,420.59 L270.88,418.94 L272.80,417.29 L274.72,415.64 L276.66,413.99 L278.60,412.34 L280.56,410.69 L282.53,409.04 L284.50,407.39 L286.49,405.74 L288.49,404.09 L290.50,402.44 L292.53,400.79 L294.56,399.14 L296.60,397.49 L298.66,395.84 L300.72,394.19 L302.80,392.54 L304.88,390.89 L306.98,389.24 L309.09,387.59 L311.20,385.94 L313.33,384.29 L315.47,382.64 L317.62,380.99 L319.79,379.34 L321.96,377.69 L324.14,376.04 L326.34,374.39 L328.54,372.74 L330.76,371.09 L332.98,369.44 L335.22,367.79 L337.47,366.14 L339.73,364.49 L342.00,362.84 L344.28,361.19 L346.57,359.54 L348.87,357.89 L351.18,356.24 L353.50,354.59 L355.84,352.94 L358.18,351.29 L360.54,349.64 L362.91,347.99 L365.28,346.34 L367.67,344.69 L370.07,343.04 L372.48,341.39 L374.90,339.74 L377.33,338.09 L379.77,336.44 L382.23,334.79 L384.69,333.14 L387.16,331.49 L389.65,329.84 L392.14,328.19 L394.65,326.54 L397.17,324.89 L399.70,323.24 L402.24,321.59 L404.79,319.94 L407.35,318.29 L409.92,316.64 L412.50,314.99 L415.09,313.34 L417.70,311.69 L420.31,310.04 L422.94,308.39 L425.57,306.74 L428.22,305.09 L430.88,303.44 L433.55,301.79 L436.22,300.14 L438.91,298.49 L441.61,296.84 L444.33,295.19 L447.05,293.54 L449.78,291.89 L452.53,290.24 L455.28,288.58 L458.05,286.93 L460.82,285.28 L463.61,283.63 L466.41,281.98 L469.21,280.33 L472.03,278.68 L474.86,277.03 L477.71,275.38 L480.56,273.73 L483.42,272.08 L486.29,270.43 L489.18,268.78 L492.07,267.13 L494.98,265.48 L497.89,263.83 L500.82,262.18 L503.76,260.53 L506.71,258.88 L509.67,257.23 L512.64,255.58 L515.62,253.93 L518.61,252.28 L521.61,250.63 L524.62,248.98 L527.65,247.33 L530.68,245.68 L533.73,244.03 L536.79,242.38 L539.85,240.73 L542.93,239.08 L546.02,237.43 L549.12,235.78 L552.23,234.13 L555.35,232.48 L558.48,230.83 L561.63,229.18 L564.78,227.52 L567.94,225.87 L571.12,224.22 L574.31,222.57 L577.50,220.92 L580.71,219.27 L583.93,217.62 L587.16,215.97 L590.40,214.32 L593.65,212.67 L596.91,211.02 L600.18,209.37 L603.46,207.72 L606.76,206.07 L610.06,204.42 L613.38,202.77 L616.70,201.11 L620.04,199.46 L623.39,197.81 L626.75,196.16 L630.11,194.51 L633.49,192.86 L636.88,191.21 L640.29,189.56 L643.70,187.91 L647.12,186.26 L650.56,184.60 L654.00,182.95 L657.46,181.30 L660.92,179.65 L664.40,178.00 L667.89,176.35 L671.38,174.70 L674.89,173.04 L678.41,171.39 L681.94,169.74 L685.49,168.09 L689.04,166.44 L692.60,164.79 L696.18,163.13 L699.76,161.48 L703.36,159.83 L706.96,158.18 L710.58,156.52 L714.21,154.87 L717.85,153.22 L721.50,151.57 L725.16,149.91 L728.83,148.26 L732.51,146.61 L736.20,144.96 L739.90,143.30 L743.62,141.65 L747.34,140.00 L751.08,138.34 L754.83,136.69 L758.58,135.04 L762.35,133.38 L766.13,131.73 L769.92,130.08 L773.72,128.42 L777.53,126.77 L781.35,125.11 L785.19,123.46 L789.03,121.80 L792.88,120.15 L796.75,118.49 L800.62,116.84 L804.51,115.18 L808.41,113.53 L812.32,111.87 L816.24,110.22 L820.17,108.56 L824.11,106.90 L828.06,105.25 L832.02,103.59 L835.99,101.94 L839.98,100.28 L843.97,98.62 L847.98,96.96 L851.99,95.31 L856.02,93.65 L860.06,91.99 L864.10,90.33 L868.16,88.67 L872.23,87.01 L876.31,85.35 L880.41,83.69 L884.51,82.03 L888.62,80.37 L892.75,78.71 L896.88,77.05 L901.03,75.39 L905.18,73.73 L909.35,72.07 L913.53,70.40 L917.71,68.74 L921.91,67.08 L926.12,65.41 L930.34,63.75 L934.58,62.09 L938.82,60.42 L943.07,58.76 L947.34,57.09 L951.61,55.42 L955.90,53.76 L960.19,52.09 L964.50,50.42" stroke-width="2.2"/>
<path d="M102.00,711.00 L102.01,709.34 L102.02,707.69 L102.05,706.03 L102.09,704.38 L102.13,702.72 L102.19,701.07 L102.26,699.41 L102.34,697.76 L102.44,696.10 L102.54,694.45 L102.65,692.79 L102.78,691.14 L102.91,689.48 L103.06,687.83 L103.21,686.17 L103.38,684.52 L103.56,682.86 L103.75,681.21 L103.95,679.55 L104.16,677.90 L104.38,676.24 L104.61,674.59 L104.85,672.93 L105.11,671.28 L105.37,669.62 L105.64,667.97 L105.93,666.31 L106.23,664.66 L106.53,663.00 L106.85,661.34 L107.18,659.69 L107.52,658.03 L107.87,656.38 L108.23,654.72 L108.60,653.07 L108.99,651.41 L109.38,649.76 L109.78,648.10 L110.20,646.45 L110.62,644.79 L111.06,643.14 L111.51,641.48 L111.97,639.83 L112.44,638.17 L112.92,636.52 L113.41,634.86 L113.91,633.21 L114.42,631.55 L114.94,629.90 L115.48,628.24 L116.02,626.59 L116.58,624.93 L117.14,623.28 L117.72,621.62 L118.31,619.97 L118.91,618.31 L119.51,616.66 L120.13,615.00 L120.76,613.35 L121.41,611.69 L122.06,610.03 L122.72,608.38 L123.40,606.72 L124.08,605.07 L124.78,603.41 L125.48,601.76 L126.20,600.10 L126.93,598.45 L127.66,596.79 L128.41,595.14 L129.17,593.48 L129.94,591.83 L130.73,590.17 L131.52,588.52 L132.32,586.86 L133.14,585.21 L133.96,583.55 L134.80,581.90 L135.64,580.24 L136.50,578.59 L137.37,576.93 L138.25,575.28 L139.14,573.62 L140.04,571.97 L140.95,570.31 L141.87,568.66 L142.80,567.00 L143.75,565.35 L144.70,563.69 L145.66,562.03 L146.64,560.38 L147.63,558.72 L148.62,557.07 L149.63,555.41 L150.65,553.76 L151.68,552.10 L152.72,550.45 L153.77,548.79 L154.83,547.14 L155.91,545.48 L156.99,543.83 L158.08,542.17 L159.19,540.52 L160.31,538.86 L161.43,537.21 L162.57,535.55 L163.72,533.90 L164.88,532.24 L166.05,530.59 L167.23,528.93 L168.42,527.28 L169.62,525.62 L170.83,523.97 L172.06,522.31 L173.29,520.66 L174.54,519.00 L175.79,517.35 L177.06,515.69 L178.34,514.04 L179.62,512.38 L180.92,510.72 L182.23,509.07 L183.55,507.41 L184.89,505.76 L186.23,504.10 L187.58,502.45 L188.95,500.79 L190.32,499.14 L191.71,497.48 L193.10,495.83 L194.51,494.17 L195.93,492.52 L197.35,490.86 L198.79,489.21 L200.24,487.55 L201.71,485.90 L203.18,484.24 L204.66,482.59 L206.15,480.93 L207.66,479.28 L209.17,477.62 L210.70,475.97 L212.23,474.31 L213.78,472.66 L215.34,471.00 L216.91,469.35 L218.49,467.69 L220.08,466.04 L221.68,464.38 L223.29,462.72 L224.91,461.07 L226.55,459.41 L228.19,457.76 L229.84,456.10 L231.51,454.45 L233.19,452.79 L234.87,451.14 L236.57,449.48 L238.28,447.83 L240.00,446.17 L241.73,444.52 L243.47,442.86 L245.22,441.21 L246.99,439.55 L248.76,437.90 L250.54,436.24 L252.34,434.59 L254.14,432.93 L255.96,431.28 L257.79,429.62 L259.63,427.97 L261.48,426.31 L263.34,424.66 L265.21,423.00 L267.09,421.35 L268.98,419.69 L270.88,418.04 L272.80,416.38 L274.72,414.73 L276.66,413.07 L278.60,411.41 L280.56,409.76 L282.53,408.10 L284.50,406.45 L286.49,404.79 L288.49,403.14 L290.50,401.48 L292.53,399.83 L294.56,398.17 L296.60,396.52 L298.66,394.86 L300.72,393.21 L302.80,391.55 L304.88,389.90 L306.98,388.24 L309.09,386.59 L311.20,384.93 L313.33,383.28 L315.47,381.62 L317.62,379.97 L319.79,378.31 L321.96,376.66 L324.14,375.00 L326.34,373.35 L328.54,371.69 L330.76,370.04 L332.98,368.38 L335.22,366.73 L337.47,365.07 L339.73,363.41 L342.00,361.76 L344.28,360.10 L346.57,358.45 L348.87,356.79 L351.18,355.14 L353.50,353.48 L355.84,351.83 L358.18,350.17 L360.54,348.52 L362.91,346.86 L365.28,345.21 L367.67,343.55 L370.07,341.90 L372.48,340.24 L374.90,338.59 L377.33,336.93 L379.77,335.28 L382.23,333.62 L384.69,331.97 L387.16,330.31 L389.65,328.66 L392.14,327.00 L394.65,325.35 L397.17,323.69 L399.70,322.04 L402.24,320.38 L404.79,318.73 L407.35,317.07 L409.92,315.41 L412.50,313.76 L415.09,312.10 L417.70,310.45 L420.31,308.79 L422.94,307.14 L425.57,305.48 L428.22,303.83 L430.88,302.17 L433.55,300.52 L436.22,298.86 L438.91,297.21 L441.61,295.55 L444.33,293.90 L447.05,292.24 L449.78,290.59 L452.53,288.93 L455.28,287.28 L458.05,285.62 L460.82,283.97 L463.61,282.31 L466.41,280.66 L469.21,279.00 L472.03,277.35 L474.86,275.69 L477.71,274.04 L480.56,272.38 L483.42,270.73 L486.29,269.07 L489.18,267.42 L492.07,265.76 L494.98,264.10 L497.89,262.45 L500.82,260.79 L503.76,259.14 L506.71,257.48 L509.67,255.83 L512.64,254.17 L515.62,252.52 L518.61,250.86 L521.61,249.21 L524.62,247.55 L527.65,245.90 L530.68,244.24 L533.73,242.59 L536.79,240.93 L539.85,239.28 L542.93,237.62 L546.02,235.97 L549.12,234.31 L552.23,232.66 L555.35,231.00 L558.48,229.35 L561.63,227.69 L564.78,226.04 L567.94,224.38 L571.12,222.73 L574.31,221.07 L577.50,219.42 L580.71,217.76 L583.93,216.10 L587.16,214.45 L590.40,212.79 L593.65,211.14 L596.91,209.48 L600.18,207.83 L603.46,206.17 L606.76,204.52 L610.06,202.86 L613.38,201.21 L616.70,199.55 L620.04,197.90 L623.39,196.24 L626.75,194.59 L630.11,192.93 L633.49,191.28 L636.88,189.62 L640.29,187.97 L643.70,186.31 L647.12,184.66 L650.56,183.00 L654.00,181.35 L657.46,179.69 L660.92,178.04 L664.40,176.38 L667.89,174.73 L671.38,173.07 L674.89,171.42 L678.41,169.76 L681.94,168.11 L685.49,166.45 L689.04,164.79 L692.60,163.14 L696.18,161.48 L699.76,159.83 L703.36,158.17 L706.96,156.52 L710.58,154.86 L714.21,153.21 L717.85,151.55 L721.50,149.90 L725.16,148.24 L728.83,146.59 L732.51,144.93 L736.20,143.28 L739.90,141.62 L743.62,139.97 L747.34,138.31 L751.08,136.66 L754.83,135.00 L758.58,133.35 L762.35,131.69 L766.13,130.04 L769.92,128.38 L773.72,126.73 L777.53,125.07 L781.35,123.42 L785.19,121.76 L789.03,120.11 L792.88,118.45 L796.75,116.79 L800.62,115.14 L804.51,113.48 L808.41,111.83 L812.32,110.17 L816.24,108.52 L820.17,106.86 L824.11,105.21 L828.06,103.55 L832.02,101.90 L835.99,100.24 L839.98,98.59 L843.97,96.93 L847.98,95.28 L851.99,93.62 L856.02,91.97 L860.06,90.31 L864.10,88.66 L868.16,87.00 L872.23,85.35 L876.31,83.69 L880.41,82.04 L884.51,80.38 L888.62,78.73 L892.75,77.07 L896.88,75.42 L901.03,73.76 L905.18,72.11 L909.35,70.45 L913.53,68.80 L917.71,67.14 L921.91,65.48 L926.12,63.83 L930.34,62.17 L934.58,60.52 L938.82,58.86 L943.07,57.21 L947.34,55.55 L951.61,53.90 L955.90,52.24 L960.19,50.59 L964.50,48.93" stroke-width="2.2"/>
<path d="M102.00,711.00 L102.01,709.87 L102.02,708.73 L102.05,707.60 L102.09,706.47 L102.13,705.33 L102.19,704.20 L102.26,703.07 L102.34,701.93 L102.44,700.80 L102.54,699.66 L102.65,698.53 L102.78,697.40 L102.91,696.26 L103.06,695.13 L103.21,694.00 L103.38,692.86 L103.56,691.73 L103.75,690.60 L103.95,689.46 L104.16,688.33 L104.38,687.20 L104.61,686.06 L104.85,684.93 L105.11,683.79 L105.37,682.66 L105.64,681.53 L105.93,680.39 L106.23,679.26 L106.53,678.13 L106.85,676.99 L107.18,675.86 L107.52,674.73 L107.87,673.59 L108.23,672.46 L108.60,671.33 L108.99,670.19 L109.38,669.06 L109.78,667.92 L110.20,666.79 L110.62,665.66 L111.06,664.52 L111.51,663.39 L111.97,662.26 L112.44,661.12 L112.92,659.99 L113.41,658.86 L113.91,657.72 L114.42,656.59 L114.94,655.46 L115.48,654.32 L116.02,653.19 L116.58,652.06 L117.14,650.92 L117.72,649.79 L118.31,648.65 L118.91,647.52 L119.51,646.39 L120.13,645.25 L120.76,644.12 L121.41,642.99 L122.06,641.85 L122.72,640.72 L123.40,639.59 L124.08,638.45 L124.78,637.32 L125.48,636.19 L126.20,635.05 L126.93,633.92 L127.66,632.78 L128.41,631.65 L129.17,630.52 L129.94,629.38 L130.73,628.25 L131.52,627.12 L132.32,625.98 L133.14,624.85 L133.96,623.72 L134.80,622.58 L135.64,621.45 L136.50,620.32 L137.37,619.18 L138.25,618.05 L139.14,616.92 L140.04,615.78 L140.95,614.65 L141.87,613.51 L142.80,612.38 L143.75,611.25 L144.70,610.11 L145.66,608.98 L146.64,607.85 L147.63,606.71 L148.62,605.58 L149.63,604.45 L150.65,603.31 L151.68,602.18 L152.72,601.05 L153.77,599.91 L154.83,598.78 L155.91,597.64 L156.99,596.51 L158.08,595.38 L159.19,594.24 L160.31,593.11 L161.43,591.98 L162.57,590.84 L163.72,589.71 L164.88,588.58 L166.05,587.44 L167.23,586.31 L168.42,585.18 L169.62,584.04 L170.83,582.91 L172.06,581.77 L173.29,580.64 L174.54,579.51 L175.79,578.37 L177.06,577.24 L178.34,576.11 L179.62,574.97 L180.92,573.84 L182.23,572.71 L183.55,571.57 L184.89,570.44 L186.23,569.31 L187.58,568.17 L188.95,567.04 L190.32,565.91 L191.71,564.77 L193.10,563.64 L194.51,562.50 L195.93,561.37 L197.35,560.24 L198.79,559.10 L200.24,557.97 L201.71,556.84 L203.18,555.70 L204.66,554.57 L206.15,553.44 L207.66,552.30 L209.17,551.17 L210.70,550.04 L212.23,548.90 L213.78,547.77 L215.34,546.63 L216.91,545.50 L218.49,544.37 L220.08,543.23 L221.68,542.10 L223.29,540.97 L224.91,539.83 L226.55,538.70 L228.19,537.57 L229.84,536.43 L231.51,535.30 L233.19,534.17 L234.87,533.03 L236.57,531.90 L238.28,530.76 L240.00,529.63 L241.73,528.50 L243.47,527.36 L245.22,526.23 L246.99,525.10 L248.76,523.96 L250.54,522.83 L252.34,521.70 L254.14,520.56 L255.96,519.43 L257.79,518.30 L259.63,517.16 L261.48,516.03 L263.34,514.90 L265.21,513.76 L267.09,512.63 L268.98,511.49 L270.88,510.36 L272.80,509.23 L274.72,508.09 L276.66,506.96 L278.60,505.83 L280.56,504.69 L282.53,503.56 L284.50,502.43 L286.49,501.29 L288.49,500.16 L290.50,499.03 L292.53,497.89 L294.56,496.76 L296.60,495.62 L298.66,494.49 L300.72,493.36 L302.80,492.22 L304.88,491.09 L306.98,489.96 L309.09,488.82 L311.20,487.69 L313.33,486.56 L315.47,485.42 L317.62,484.29 L319.79,483.16 L321.96,482.02 L324.14,480.89 L326.34,479.76 L328.54,478.62 L330.76,477.49 L332.98,476.35 L335.22,475.22 L337.47,474.09 L339.73,472.95 L342.00,471.82 L344.28,470.69 L346.57,469.55 L348.87,468.42 L351.18,467.29 L353.50,466.15 L355.84,465.02 L358.18,463.89 L360.54,462.75 L362.91,461.62 L365.28,460.48 L367.67,459.35 L370.07,458.22 L372.48,457.08 L374.90,455.95 L377.33,454.82 L379.77,453.68 L382.23,452.55 L384.69,451.42 L387.16,450.28 L389.65,449.15 L392.14,448.02 L394.65,446.88 L397.17,445.75 L399.70,444.61 L402.24,443.48 L404.79,442.35 L407.35,441.21 L409.92,440.08 L412.50,438.95 L415.09,437.81 L417.70,436.68 L420.31,435.55 L422.94,434.41 L425.57,433.28 L428.22,432.15 L430.88,431.01 L433.55,429.88 L436.22,428.75 L438.91,427.61 L441.61,426.48 L444.33,425.34 L447.05,424.21 L449.78,423.08 L452.53,421.94 L455.28,420.81 L458.05,419.68 L460.82,418.54 L463.61,417.41 L466.41,416.28 L469.21,415.14 L472.03,414.01 L474.86,412.88 L477.71,411.74 L480.56,410.61 L483.42,409.47 L486.29,408.34 L489.18,407.21 L492.07,406.07 L494.98,404.94 L497.89,403.81 L500.82,402.67 L503.76,401.54 L506.71,400.41 L509.67,399.27 L512.64,398.14 L515.62,397.01 L518.61,395.87 L521.61,394.74 L524.62,393.60 L527.65,392.47 L530.68,391.34 L533.73,390.20 L536.79,389.07 L539.85,387.94 L542.93,386.80 L546.02,385.67 L549.12,384.54 L552.23,383.40 L555.35,382.27 L558.48,381.14 L561.63,380.00 L564.78,378.87 L567.94,377.74 L571.12,376.60 L574.31,375.47 L577.50,374.33 L580.71,373.20 L583.93,372.07 L587.16,370.93 L590.40,369.80 L593.65,368.67 L596.91,367.53 L600.18,366.40 L603.46,365.27 L606.76,364.13 L610.06,363.00 L613.38,361.87 L616.70,360.73 L620.04,359.60 L623.39,358.46 L626.75,357.33 L630.11,356.20 L633.49,355.06 L636.88,353.93 L640.29,352.80 L643.70,351.66 L647.12,350.53 L650.56,349.40 L654.00,348.26 L657.46,347.13 L660.92,346.00 L664.40,344.86 L667.89,343.73 L671.38,342.60 L674.89,341.46 L678.41,340.33 L681.94,339.19 L685.49,338.06 L689.04,336.93 L692.60,335.79 L696.18,334.66 L699.76,333.53 L703.36,332.39 L706.96,331.26 L710.58,330.13 L714.21,328.99 L717.85,327.86 L721.50,326.73 L725.16,325.59 L728.83,324.46 L732.51,323.32 L736.20,322.19 L739.90,321.06 L743.62,319.92 L747.34,318.79 L751.08,317.66 L754.83,316.52 L758.58,315.39 L762.35,314.26 L766.13,313.12 L769.92,311.99 L773.72,310.86 L777.53,309.72 L781.35,308.59 L785.19,307.45 L789.03,306.32 L792.88,305.19 L796.75,304.05 L800.62,302.92 L804.51,301.79 L808.41,300.65 L812.32,299.52 L816.24,298.39 L820.17,297.25 L824.11,296.12 L828.06,294.99 L832.02,293.85 L835.99,292.72 L839.98,291.59 L843.97,290.45 L847.98,289.32 L851.99,288.18 L856.02,287.05 L860.06,285.92 L864.10,284.78 L868.16,283.65 L872.23,282.52 L876.31,281.38 L880.41,280.25 L884.51,279.12 L888.62,277.98 L892.75,276.85 L896.88,275.72 L901.03,274.58 L905.18,273.45 L909.35,272.31 L913.53,271.18 L917.71,270.05 L921.91,268.91 L926.12,267.78 L930.34,266.65 L934.58,265.51 L938.82,264.38 L943.07,263.25 L947.34,262.11 L951.61,260.98 L955.90,259.85 L960.19,258.71 L964.50,257.58" stroke-width="2.3"/>
<path d="M102.00,711.00 L102.01,709.86 L102.02,708.72 L102.05,707.59 L102.09,706.45 L102.13,705.31 L102.19,704.17 L102.26,703.04 L102.34,701.90 L102.44,700.76 L102.54,699.62 L102.65,698.49 L102.78,697.35 L102.91,696.21 L103.06,695.07 L103.21,693.94 L103.38,692.80 L103.56,691.66 L103.75,690.52 L103.95,689.39 L104.16,688.25 L104.38,687.11 L104.61,685.97 L104.85,684.83 L105.11,683.70 L105.37,682.56 L105.64,681.42 L105.93,680.28 L106.23,679.15 L106.53,678.01 L106.85,676.87 L107.18,675.73 L107.52,674.60 L107.87,673.46 L108.23,672.32 L108.60,671.18 L108.99,670.05 L109.38,668.91 L109.78,667.77 L110.20,666.63 L110.62,665.50 L111.06,664.36 L111.51,663.22 L111.97,662.08 L112.44,660.94 L112.92,659.81 L113.41,658.67 L113.91,657.53 L114.42,656.39 L114.94,655.26 L115.48,654.12 L116.02,652.98 L116.58,651.84 L117.14,650.71 L117.72,649.57 L118.31,648.43 L118.91,647.29 L119.51,646.16 L120.13,645.02 L120.76,643.88 L121.41,642.74 L122.06,641.61 L122.72,640.47 L123.40,639.33 L124.08,638.19 L124.78,637.05 L125.48,635.92 L126.20,634.78 L126.93,633.64 L127.66,632.50 L128.41,631.37 L129.17,630.23 L129.94,629.09 L130.73,627.95 L131.52,626.82 L132.32,625.68 L133.14,624.54 L133.96,623.40 L134.80,622.27 L135.64,621.13 L136.50,619.99 L137.37,618.85 L138.25,617.71 L139.14,616.58 L140.04,615.44 L140.95,614.30 L141.87,613.16 L142.80,612.03 L143.75,610.89 L144.70,609.75 L145.66,608.61 L146.64,607.48 L147.63,606.34 L148.62,605.20 L149.63,604.06 L150.65,602.93 L151.68,601.79 L152.72,600.65 L153.77,599.51 L154.83,598.38 L155.91,597.24 L156.99,596.10 L158.08,594.96 L159.19,593.82 L160.31,592.69 L161.43,591.55 L162.57,590.41 L163.72,589.27 L164.88,588.14 L166.05,587.00 L167.23,585.86 L168.42,584.72 L169.62,583.59 L170.83,582.45 L172.06,581.31 L173.29,580.17 L174.54,579.04 L175.79,577.90 L177.06,576.76 L178.34,575.62 L179.62,574.49 L180.92,573.35 L182.23,572.21 L183.55,571.07 L184.89,569.93 L186.23,568.80 L187.58,567.66 L188.95,566.52 L190.32,565.38 L191.71,564.25 L193.10,563.11 L194.51,561.97 L195.93,560.83 L197.35,559.70 L198.79,558.56 L200.24,557.42 L201.71,556.28 L203.18,555.15 L204.66,554.01 L206.15,552.87 L207.66,551.73 L209.17,550.60 L210.70,549.46 L212.23,548.32 L213.78,547.18 L215.34,546.04 L216.91,544.91 L218.49,543.77 L220.08,542.63 L221.68,541.49 L223.29,540.36 L224.91,539.22 L226.55,538.08 L228.19,536.94 L229.84,535.81 L231.51,534.67 L233.19,533.53 L234.87,532.39 L236.57,531.26 L238.28,530.12 L240.00,528.98 L241.73,527.84 L243.47,526.71 L245.22,525.57 L246.99,524.43 L248.76,523.29 L250.54,522.15 L252.34,521.02 L254.14,519.88 L255.96,518.74 L257.79,517.60 L259.63,516.47 L261.48,515.33 L263.34,514.19 L265.21,513.05 L267.09,511.92 L268.98,510.78 L270.88,509.64 L272.80,508.50 L274.72,507.37 L276.66,506.23 L278.60,505.09 L280.56,503.95 L282.53,502.82 L284.50,501.68 L286.49,500.54 L288.49,499.40 L290.50,498.26 L292.53,497.13 L294.56,495.99 L296.60,494.85 L298.66,493.71 L300.72,492.58 L302.80,491.44 L304.88,490.30 L306.98,489.16 L309.09,488.03 L311.20,486.89 L313.33,485.75 L315.47,484.61 L317.62,483.48 L319.79,482.34 L321.96,481.20 L324.14,480.06 L326.34,478.93 L328.54,477.79 L330.76,476.65 L332.98,475.51 L335.22,474.37 L337.47,473.24 L339.73,472.10 L342.00,470.96 L344.28,469.82 L346.57,468.69 L348.87,467.55 L351.18,466.41 L353.50,465.27 L355.84,464.14 L358.18,463.00 L360.54,461.86 L362.91,460.72 L365.28,459.59 L367.67,458.45 L370.07,457.31 L372.48,456.17 L374.90,455.03 L377.33,453.90 L379.77,452.76 L382.23,451.62 L384.69,450.48 L387.16,449.35 L389.65,448.21 L392.14,447.07 L394.65,445.93 L397.17,444.80 L399.70,443.66 L402.24,442.52 L404.79,441.38 L407.35,440.25 L409.92,439.11 L412.50,437.97 L415.09,436.83 L417.70,435.70 L420.31,434.56 L422.94,433.42 L425.57,432.28 L428.22,431.14 L430.88,430.01 L433.55,428.87 L436.22,427.73 L438.91,426.59 L441.61,425.46 L444.33,424.32 L447.05,423.18 L449.78,422.04 L452.53,420.91 L455.28,419.77 L458.05,418.63 L460.82,417.49 L463.61,416.36 L466.41,415.22 L469.21,414.08 L472.03,412.94 L474.86,411.81 L477.71,410.67 L480.56,409.53 L483.42,408.39 L486.29,407.25 L489.18,406.12 L492.07,404.98 L494.98,403.84 L497.89,402.70 L500.82,401.57 L503.76,400.43 L506.71,399.29 L509.67,398.15 L512.64,397.02 L515.62,395.88 L518.61,394.74 L521.61,393.60 L524.62,392.47 L527.65,391.33 L530.68,390.19 L533.73,389.05 L536.79,387.92 L539.85,386.78 L542.93,385.64 L546.02,384.50 L549.12,383.36 L552.23,382.23 L555.35,381.09 L558.48,379.95 L561.63,378.81 L564.78,377.68 L567.94,376.54 L571.12,375.40 L574.31,374.26 L577.50,373.13 L580.71,371.99 L583.93,370.85 L587.16,369.71 L590.40,368.58 L593.65,367.44 L596.91,366.30 L600.18,365.16 L603.46,364.03 L606.76,362.89 L610.06,361.75 L613.38,360.61 L616.70,359.47 L620.04,358.34 L623.39,357.20 L626.75,356.06 L630.11,354.92 L633.49,353.79 L636.88,352.65 L640.29,351.51 L643.70,350.37 L647.12,349.24 L650.56,348.10 L654.00,346.96 L657.46,345.82 L660.92,344.69 L664.40,343.55 L667.89,342.41 L671.38,341.27 L674.89,340.14 L678.41,339.00 L681.94,337.86 L685.49,336.72 L689.04,335.58 L692.60,334.45 L696.18,333.31 L699.76,332.17 L703.36,331.03 L706.96,329.90 L710.58,328.76 L714.21,327.62 L717.85,326.48 L721.50,325.35 L725.16,324.21 L728.83,323.07 L732.51,321.93 L736.20,320.80 L739.90,319.66 L743.62,318.52 L747.34,317.38 L751.08,316.24 L754.83,315.11 L758.58,313.97 L762.35,312.83 L766.13,311.69 L769.92,310.56 L773.72,309.42 L777.53,308.28 L781.35,307.14 L785.19,306.01 L789.03,304.87 L792.88,303.73 L796.75,302.59 L800.62,301.46 L804.51,300.32 L808.41,299.18 L812.32,298.04 L816.24,296.91 L820.17,295.77 L824.11,294.63 L828.06,293.49 L832.02,292.35 L835.99,291.22 L839.98,290.08 L843.97,288.94 L847.98,287.80 L851.99,286.67 L856.02,285.53 L860.06,284.39 L864.10,283.25 L868.16,282.12 L872.23,280.98 L876.31,279.84 L880.41,278.70 L884.51,277.57 L888.62,276.43 L892.75,275.29 L896.88,274.15 L901.03,273.02 L905.18,271.88 L909.35,270.74 L913.53,269.60 L917.71,268.46 L921.91,267.33 L926.12,266.19 L930.34,265.05 L934.58,263.91 L938.82,262.78 L943.07,261.64 L947.34,260.50 L951.61,259.36 L955.90,258.23 L960.19,257.09 L964.50,255.95" stroke-width="2.3"/>
<path d="M102.00,711.00 L102.01,709.86 L102.02,708.72 L102.05,707.57 L102.09,706.43 L102.13,705.29 L102.19,704.15 L102.26,703.01 L102.34,701.87 L102.44,700.72 L102.54,699.58 L102.65,698.44 L102.78,697.30 L102.91,696.16 L103.06,695.02 L103.21,693.87 L103.38,692.73 L103.56,691.59 L103.75,690.45 L103.95,689.31 L104.16,688.17 L104.38,687.02 L104.61,685.88 L104.85,684.74 L105.11,683.60 L105.37,682.46 L105.64,681.32 L105.93,680.17 L106.23,679.03 L106.53,677.89 L106.85,676.75 L107.18,675.61 L107.52,674.47 L107.87,673.32 L108.23,672.18 L108.60,671.04 L108.99,669.90 L109.38,668.76 L109.78,667.62 L110.20,666.47 L110.62,665.33 L111.06,664.19 L111.51,663.05 L111.97,661.91 L112.44,660.77 L112.92,659.62 L113.41,658.48 L113.91,657.34 L114.42,656.20 L114.94,655.06 L115.48,653.92 L116.02,652.77 L116.58,651.63 L117.14,650.49 L117.72,649.35 L118.31,648.21 L118.91,647.07 L119.51,645.92 L120.13,644.78 L120.76,643.64 L121.41,642.50 L122.06,641.36 L122.72,640.22 L123.40,639.07 L124.08,637.93 L124.78,636.79 L125.48,635.65 L126.20,634.51 L126.93,633.36 L127.66,632.22 L128.41,631.08 L129.17,629.94 L129.94,628.80 L130.73,627.66 L131.52,626.51 L132.32,625.37 L133.14,624.23 L133.96,623.09 L134.80,621.95 L135.64,620.81 L136.50,619.66 L137.37,618.52 L138.25,617.38 L139.14,616.24 L140.04,615.10 L140.95,613.96 L141.87,612.81 L142.80,611.67 L143.75,610.53 L144.70,609.39 L145.66,608.25 L146.64,607.11 L147.63,605.96 L148.62,604.82 L149.63,603.68 L150.65,602.54 L151.68,601.40 L152.72,600.26 L153.77,599.11 L154.83,597.97 L155.91,596.83 L156.99,595.69 L158.08,594.55 L159.19,593.41 L160.31,592.26 L161.43,591.12 L162.57,589.98 L163.72,588.84 L164.88,587.70 L166.05,586.56 L167.23,585.41 L168.42,584.27 L169.62,583.13 L170.83,581.99 L172.06,580.85 L173.29,579.71 L174.54,578.56 L175.79,577.42 L177.06,576.28 L178.34,575.14 L179.62,574.00 L180.92,572.86 L182.23,571.71 L183.55,570.57 L184.89,569.43 L186.23,568.29 L187.58,567.15 L188.95,566.01 L190.32,564.86 L191.71,563.72 L193.10,562.58 L194.51,561.44 L195.93,560.30 L197.35,559.16 L198.79,558.01 L200.24,556.87 L201.71,555.73 L203.18,554.59 L204.66,553.45 L206.15,552.30 L207.66,551.16 L209.17,550.02 L210.70,548.88 L212.23,547.74 L213.78,546.60 L215.34,545.45 L216.91,544.31 L218.49,543.17 L220.08,542.03 L221.68,540.89 L223.29,539.75 L224.91,538.60 L226.55,537.46 L228.19,536.32 L229.84,535.18 L231.51,534.04 L233.19,532.90 L234.87,531.75 L236.57,530.61 L238.28,529.47 L240.00,528.33 L241.73,527.19 L243.47,526.05 L245.22,524.90 L246.99,523.76 L248.76,522.62 L250.54,521.48 L252.34,520.34 L254.14,519.20 L255.96,518.05 L257.79,516.91 L259.63,515.77 L261.48,514.63 L263.34,513.49 L265.21,512.35 L267.09,511.20 L268.98,510.06 L270.88,508.92 L272.80,507.78 L274.72,506.64 L276.66,505.50 L278.60,504.35 L280.56,503.21 L282.53,502.07 L284.50,500.93 L286.49,499.79 L288.49,498.65 L290.50,497.50 L292.53,496.36 L294.56,495.22 L296.60,494.08 L298.66,492.94 L300.72,491.80 L302.80,490.65 L304.88,489.51 L306.98,488.37 L309.09,487.23 L311.20,486.09 L313.33,484.95 L315.47,483.80 L317.62,482.66 L319.79,481.52 L321.96,480.38 L324.14,479.24 L326.34,478.09 L328.54,476.95 L330.76,475.81 L332.98,474.67 L335.22,473.53 L337.47,472.39 L339.73,471.24 L342.00,470.10 L344.28,468.96 L346.57,467.82 L348.87,466.68 L351.18,465.54 L353.50,464.39 L355.84,463.25 L358.18,462.11 L360.54,460.97 L362.91,459.83 L365.28,458.69 L367.67,457.54 L370.07,456.40 L372.48,455.26 L374.90,454.12 L377.33,452.98 L379.77,451.84 L382.23,450.69 L384.69,449.55 L387.16,448.41 L389.65,447.27 L392.14,446.13 L394.65,444.99 L397.17,443.84 L399.70,442.70 L402.24,441.56 L404.79,440.42 L407.35,439.28 L409.92,438.14 L412.50,436.99 L415.09,435.85 L417.70,434.71 L420.31,433.57 L422.94,432.43 L425.57,431.29 L428.22,430.14 L430.88,429.00 L433.55,427.86 L436.22,426.72 L438.91,425.58 L441.61,424.44 L444.33,423.29 L447.05,422.15 L449.78,421.01 L452.53,419.87 L455.28,418.73 L458.05,417.59 L460.82,416.44 L463.61,415.30 L466.41,414.16 L469.21,413.02 L472.03,411.88 L474.86,410.74 L477.71,409.59 L480.56,408.45 L483.42,407.31 L486.29,406.17 L489.18,405.03 L492.07,403.89 L494.98,402.74 L497.89,401.60 L500.82,400.46 L503.76,399.32 L506.71,398.18 L509.67,397.03 L512.64,395.89 L515.62,394.75 L518.61,393.61 L521.61,392.47 L524.62,391.33 L527.65,390.18 L530.68,389.04 L533.73,387.90 L536.79,386.76 L539.85,385.62 L542.93,384.48 L546.02,383.33 L549.12,382.19 L552.23,381.05 L555.35,379.91 L558.48,378.77 L561.63,377.63 L564.78,376.48 L567.94,375.34 L571.12,374.20 L574.31,373.06 L577.50,371.92 L580.71,370.78 L583.93,369.63 L587.16,368.49 L590.40,367.35 L593.65,366.21 L596.91,365.07 L600.18,363.93 L603.46,362.78 L606.76,361.64 L610.06,360.50 L613.38,359.36 L616.70,358.22 L620.04,357.08 L623.39,355.93 L626.75,354.79 L630.11,353.65 L633.49,352.51 L636.88,351.37 L640.29,350.23 L643.70,349.08 L647.12,347.94 L650.56,346.80 L654.00,345.66 L657.46,344.52 L660.92,343.38 L664.40,342.23 L667.89,341.09 L671.38,339.95 L674.89,338.81 L678.41,337.67 L681.94,336.53 L685.49,335.38 L689.04,334.24 L692.60,333.10 L696.18,331.96 L699.76,330.82 L703.36,329.68 L706.96,328.53 L710.58,327.39 L714.21,326.25 L717.85,325.11 L721.50,323.97 L725.16,322.82 L728.83,321.68 L732.51,320.54 L736.20,319.40 L739.90,318.26 L743.62,317.12 L747.34,315.97 L751.08,314.83 L754.83,313.69 L758.58,312.55 L762.35,311.41 L766.13,310.27 L769.92,309.12 L773.72,307.98 L777.53,306.84 L781.35,305.70 L785.19,304.56 L789.03,303.42 L792.88,302.27 L796.75,301.13 L800.62,299.99 L804.51,298.85 L808.41,297.71 L812.32,296.57 L816.24,295.42 L820.17,294.28 L824.11,293.14 L828.06,292.00 L832.02,290.86 L835.99,289.72 L839.98,288.57 L843.97,287.43 L847.98,286.29 L851.99,285.15 L856.02,284.01 L860.06,282.87 L864.10,281.72 L868.16,280.58 L872.23,279.44 L876.31,278.30 L880.41,277.16 L884.51,276.02 L888.62,274.87 L892.75,273.73 L896.88,272.59 L901.03,271.45 L905.18,270.31 L909.35,269.17 L913.53,268.02 L917.71,266.88 L921.91,265.74 L926.12,264.60 L930.34,263.46 L934.58,262.32 L938.82,261.17 L943.07,260.03 L947.34,258.89 L951.61,257.75 L955.90,256.61 L960.19,255.47 L964.50,254.32" stroke-width="2.3"/>
<path d="M102.00,711.00 L102.01,709.83 L102.02,708.67 L102.05,707.50 L102.09,706.33 L102.13,705.17 L102.19,704.00 L102.26,702.83 L102.34,701.66 L102.44,700.50 L102.54,699.33 L102.65,698.16 L102.78,697.00 L102.91,695.83 L103.06,694.66 L103.21,693.50 L103.38,692.33 L103.56,691.16 L103.75,690.00 L103.95,688.83 L104.16,687.66 L104.38,686.49 L104.61,685.33 L104.85,684.16 L105.11,682.99 L105.37,681.83 L105.64,680.66 L105.93,679.49 L106.23,678.33 L106.53,677.16 L106.85,675.99 L107.18,674.83 L107.52,673.66 L107.87,672.49 L108.23,671.32 L108.60,670.16 L108.99,668.99 L109.38,667.82 L109.78,666.66 L110.20,665.49 L110.62,664.32 L111.06,663.16 L111.51,661.99 L111.97,660.82 L112.44,659.66 L112.92,658.49 L113.41,657.32 L113.91,656.15 L114.42,654.99 L114.94,653.82 L115.48,652.65 L116.02,651.49 L116.58,650.32 L117.14,649.15 L117.72,647.99 L118.31,646.82 L118.91,645.65 L119.51,644.48 L120.13,643.32 L120.76,642.15 L121.41,640.98 L122.06,639.82 L122.72,638.65 L123.40,637.48 L124.08,636.31 L124.78,635.15 L125.48,633.98 L126.20,632.81 L126.93,631.65 L127.66,630.48 L128.41,629.31 L129.17,628.14 L129.94,626.98 L130.73,625.81 L131.52,624.64 L132.32,623.47 L133.14,622.31 L133.96,621.14 L134.80,619.97 L135.64,618.80 L136.50,617.64 L137.37,616.47 L138.25,615.30 L139.14,614.13 L140.04,612.97 L140.95,611.80 L141.87,610.63 L142.80,609.46 L143.75,608.30 L144.70,607.13 L145.66,605.96 L146.64,604.79 L147.63,603.62 L148.62,602.46 L149.63,601.29 L150.65,600.12 L151.68,598.95 L152.72,597.78 L153.77,596.62 L154.83,595.45 L155.91,594.28 L156.99,593.11 L158.08,591.94 L159.19,590.77 L160.31,589.60 L161.43,588.44 L162.57,587.27 L163.72,586.10 L164.88,584.93 L166.05,583.76 L167.23,582.59 L168.42,581.42 L169.62,580.25 L170.83,579.08 L172.06,577.91 L173.29,576.74 L174.54,575.57 L175.79,574.41 L177.06,573.24 L178.34,572.07 L179.62,570.90 L180.92,569.73 L182.23,568.56 L183.55,567.39 L184.89,566.21 L186.23,565.04 L187.58,563.87 L188.95,562.70 L190.32,561.53 L191.71,560.36 L193.10,559.19 L194.51,558.02 L195.93,556.85 L197.35,555.68 L198.79,554.50 L200.24,553.33 L201.71,552.16 L203.18,550.99 L204.66,549.82 L206.15,548.64 L207.66,547.47 L209.17,546.30 L210.70,545.13 L212.23,543.95 L213.78,542.78 L215.34,541.61 L216.91,540.43 L218.49,539.26 L220.08,538.08 L221.68,536.91 L223.29,535.74 L224.91,534.56 L226.55,533.39 L228.19,532.21 L229.84,531.04 L231.51,529.86 L233.19,528.68 L234.87,527.51 L236.57,526.33 L238.28,525.16 L240.00,523.98 L241.73,522.80 L243.47,521.63 L245.22,520.45 L246.99,519.27 L248.76,518.09 L250.54,516.92 L252.34,515.74 L254.14,514.56 L255.96,513.38 L257.79,512.20 L259.63,511.02 L261.48,509.84 L263.34,508.66 L265.21,507.48 L267.09,506.30 L268.98,505.12 L270.88,503.94 L272.80,502.75 L274.72,501.57 L276.66,500.39 L278.60,499.21 L280.56,498.02 L282.53,496.84 L284.50,495.66 L286.49,494.47 L288.49,493.29 L290.50,492.10 L292.53,490.92 L294.56,489.73 L296.60,488.55 L298.66,487.36 L300.72,486.17 L302.80,484.98 L304.88,483.80 L306.98,482.61 L309.09,481.42 L311.20,480.23 L313.33,479.04 L315.47,477.85 L317.62,476.66 L319.79,475.47 L321.96,474.28 L324.14,473.09 L326.34,471.89 L328.54,470.70 L330.76,469.51 L332.98,468.31 L335.22,467.12 L337.47,465.92 L339.73,464.73 L342.00,463.53 L344.28,462.33 L346.57,461.14 L348.87,459.94 L351.18,458.74 L353.50,457.54 L355.84,456.34 L358.18,455.14 L360.54,453.94 L362.91,452.74 L365.28,451.54 L367.67,450.33 L370.07,449.13 L372.48,447.93 L374.90,446.72 L377.33,445.51 L379.77,444.31 L382.23,443.10 L384.69,441.89 L387.16,440.69 L389.65,439.48 L392.14,438.27 L394.65,437.06 L397.17,435.84 L399.70,434.63 L402.24,433.42 L404.79,432.21 L407.35,430.99 L409.92,429.78 L412.50,428.56 L415.09,427.34 L417.70,426.13 L420.31,424.91 L422.94,423.69 L425.57,422.47 L428.22,421.25 L430.88,420.02 L433.55,418.80 L436.22,417.58 L438.91,416.35 L441.61,415.13 L444.33,413.90 L447.05,412.67 L449.78,411.44 L452.53,410.21 L455.28,408.98 L458.05,407.75 L460.82,406.52 L463.61,405.29 L466.41,404.05 L469.21,402.82 L472.03,401.58 L474.86,400.34 L477.71,399.10 L480.56,397.86 L483.42,396.62 L486.29,395.38 L489.18,394.14 L492.07,392.89 L494.98,391.64 L497.89,390.40 L500.82,389.15 L503.76,387.90 L506.71,386.65 L509.67,385.40 L512.64,384.15 L515.62,382.89 L518.61,381.64 L521.61,380.38 L524.62,379.12 L527.65,377.86 L530.68,376.60 L533.73,375.34 L536.79,374.08 L539.85,372.81 L542.93,371.54 L546.02,370.28 L549.12,369.01 L552.23,367.74 L555.35,366.47 L558.48,365.19 L561.63,363.92 L564.78,362.64 L567.94,361.36 L571.12,360.08 L574.31,358.80 L577.50,357.52 L580.71,356.24 L583.93,354.95 L587.16,353.66 L590.40,352.38 L593.65,351.08 L596.91,349.79 L600.18,348.50 L603.46,347.20 L606.76,345.91 L610.06,344.61 L613.38,343.31 L616.70,342.01 L620.04,340.70 L623.39,339.40 L626.75,338.09 L630.11,336.78 L633.49,335.47 L636.88,334.15 L640.29,332.84 L643.70,331.52 L647.12,330.20 L650.56,328.88 L654.00,327.56 L657.46,326.24 L660.92,324.91 L664.40,323.58 L667.89,322.25 L671.38,320.92 L674.89,319.58 L678.41,318.25 L681.94,316.91 L685.49,315.57 L689.04,314.22 L692.60,312.88 L696.18,311.53 L699.76,310.18 L703.36,308.83 L706.96,307.48 L710.58,306.12 L714.21,304.76 L717.85,303.40 L721.50,302.04 L725.16,300.67 L728.83,299.30 L732.51,297.93 L736.20,296.56 L739.90,295.19 L743.62,293.81 L747.34,292.43 L751.08,291.05 L754.83,289.66 L758.58,288.28 L762.35,286.89 L766.13,285.49 L769.92,284.10 L773.72,282.70 L777.53,281.30 L781.35,279.90 L785.19,278.49 L789.03,277.08 L792.88,275.67 L796.75,274.26 L800.62,272.84 L804.51,271.42 L808.41,270.00 L812.32,268.58 L816.24,267.15 L820.17,265.72 L824.11,264.28 L828.06,262.85 L832.02,261.41 L835.99,259.97 L839.98,258.52 L843.97,257.07 L847.98,255.62 L851.99,254.17 L856.02,252.71 L860.06,251.25 L864.10,249.78 L868.16,248.32 L872.23,246.85 L876.31,245.37 L880.41,243.90 L884.51,242.42 L888.62,240.93 L892.75,239.45 L896.88,237.96 L901.03,236.46 L905.18,234.97 L909.35,233.47 L913.53,231.96 L917.71,230.45 L921.91,228.94 L926.12,227.43 L930.34,225.91 L934.58,224.39 L938.82,222.86 L943.07,221.34 L947.34,219.80 L951.61,218.27 L955.90,216.73 L960.19,215.18 L964.50,213.64" stroke-width="3" stroke-dasharray="7 12" stroke-dashoffset="8"/>
<path d="M102.00,711.00 L102.01,710.19 L102.02,709.37 L102.05,708.56 L102.09,707.74 L102.13,706.93 L102.19,706.12 L102.26,705.30 L102.34,704.49 L102.44,703.68 L102.54,702.86 L102.65,702.05 L102.78,701.23 L102.91,700.42 L103.06,699.61 L103.21,698.79 L103.38,697.98 L103.56,697.17 L103.75,696.35 L103.95,695.54 L104.16,694.72 L104.38,693.91 L104.61,693.10 L104.85,692.28 L105.11,691.47 L105.37,690.66 L105.64,689.84 L105.93,689.03 L106.23,688.21 L106.53,687.40 L106.85,686.59 L107.18,685.77 L107.52,684.96 L107.87,684.14 L108.23,683.33 L108.60,682.52 L108.99,681.70 L109.38,680.89 L109.78,680.08 L110.20,679.26 L110.62,678.45 L111.06,677.63 L111.51,676.82 L111.97,676.01 L112.44,675.19 L112.92,674.38 L113.41,673.56 L113.91,672.75 L114.42,671.94 L114.94,671.12 L115.48,670.31 L116.02,669.49 L116.58,668.68 L117.14,667.87 L117.72,667.05 L118.31,666.24 L118.91,665.42 L119.51,664.61 L120.13,663.79 L120.76,662.98 L121.41,662.17 L122.06,661.35 L122.72,660.54 L123.40,659.72 L124.08,658.91 L124.78,658.10 L125.48,657.28 L126.20,656.47 L126.93,655.65 L127.66,654.84 L128.41,654.02 L129.17,653.21 L129.94,652.39 L130.73,651.58 L131.52,650.77 L132.32,649.95 L133.14,649.14 L133.96,648.32 L134.80,647.51 L135.64,646.69 L136.50,645.88 L137.37,645.06 L138.25,644.25 L139.14,643.44 L140.04,642.62 L140.95,641.81 L141.87,640.99 L142.80,640.18 L143.75,639.36 L144.70,638.55 L145.66,637.73 L146.64,636.92 L147.63,636.10 L148.62,635.29 L149.63,634.47 L150.65,633.66 L151.68,632.84 L152.72,632.03 L153.77,631.21 L154.83,630.40 L155.91,629.58 L156.99,628.77 L158.08,627.95 L159.19,627.14 L160.31,626.32 L161.43,625.51 L162.57,624.69 L163.72,623.88 L164.88,623.06 L166.05,622.25 L167.23,621.43 L168.42,620.62 L169.62,619.80 L170.83,618.99 L172.06,618.17 L173.29,617.36 L174.54,616.54 L175.79,615.73 L177.06,614.91 L178.34,614.10 L179.62,613.28 L180.92,612.46 L182.23,611.65 L183.55,610.83 L184.89,610.02 L186.23,609.20 L187.58,608.39 L188.95,607.57 L190.32,606.75 L191.71,605.94 L193.10,605.12 L194.51,604.31 L195.93,603.49 L197.35,602.68 L198.79,601.86 L200.24,601.04 L201.71,600.23 L203.18,599.41 L204.66,598.60 L206.15,597.78 L207.66,596.96 L209.17,596.15 L210.70,595.33 L212.23,594.51 L213.78,593.70 L215.34,592.88 L216.91,592.07 L218.49,591.25 L220.08,590.43 L221.68,589.62 L223.29,588.80 L224.91,587.98 L226.55,587.17 L228.19,586.35 L229.84,585.53 L231.51,584.72 L233.19,583.90 L234.87,583.08 L236.57,582.27 L238.28,581.45 L240.00,580.63 L241.73,579.82 L243.47,579.00 L245.22,578.18 L246.99,577.37 L248.76,576.55 L250.54,575.73 L252.34,574.91 L254.14,574.10 L255.96,573.28 L257.79,572.46 L259.63,571.65 L261.48,570.83 L263.34,570.01 L265.21,569.19 L267.09,568.38 L268.98,567.56 L270.88,566.74 L272.80,565.92 L274.72,565.11 L276.66,564.29 L278.60,563.47 L280.56,562.65 L282.53,561.83 L284.50,561.02 L286.49,560.20 L288.49,559.38 L290.50,558.56 L292.53,557.74 L294.56,556.93 L296.60,556.11 L298.66,555.29 L300.72,554.47 L302.80,553.65 L304.88,552.84 L306.98,552.02 L309.09,551.20 L311.20,550.38 L313.33,549.56 L315.47,548.74 L317.62,547.92 L319.79,547.11 L321.96,546.29 L324.14,545.47 L326.34,544.65 L328.54,543.83 L330.76,543.01 L332.98,542.19 L335.22,541.37 L337.47,540.55 L339.73,539.74 L342.00,538.92 L344.28,538.10 L346.57,537.28 L348.87,536.46 L351.18,535.64 L353.50,534.82 L355.84,534.00 L358.18,533.18 L360.54,532.36 L362.91,531.54 L365.28,530.72 L367.67,529.90 L370.07,529.08 L372.48,528.26 L374.90,527.44 L377.33,526.62 L379.77,525.80 L382.23,524.98 L384.69,524.16 L387.16,523.34 L389.65,522.52 L392.14,521.70 L394.65,520.88 L397.17,520.06 L399.70,519.24 L402.24,518.42 L404.79,517.60 L407.35,516.78 L409.92,515.96 L412.50,515.14 L415.09,514.32 L417.70,513.50 L420.31,512.67 L422.94,511.85 L425.57,511.03 L428.22,510.21 L430.88,509.39 L433.55,508.57 L436.22,507.75 L438.91,506.93 L441.61,506.11 L444.33,505.28 L447.05,504.46 L449.78,503.64 L452.53,502.82 L455.28,502.00 L458.05,501.18 L460.82,500.35 L463.61,499.53 L466.41,498.71 L469.21,497.89 L472.03,497.07 L474.86,496.24 L477.71,495.42 L480.56,494.60 L483.42,493.78 L486.29,492.95 L489.18,492.13 L492.07,491.31 L494.98,490.49 L497.89,489.66 L500.82,488.84 L503.76,488.02 L506.71,487.20 L509.67,486.37 L512.64,485.55 L515.62,484.73 L518.61,483.90 L521.61,483.08 L524.62,482.26 L527.65,481.43 L530.68,480.61 L533.73,479.79 L536.79,478.96 L539.85,478.14 L542.93,477.32 L546.02,476.49 L549.12,475.67 L552.23,474.84 L555.35,474.02 L558.48,473.20 L561.63,472.37 L564.78,471.55 L567.94,470.72 L571.12,469.90 L574.31,469.07 L577.50,468.25 L580.71,467.43 L583.93,466.60 L587.16,465.78 L590.40,464.95 L593.65,464.13 L596.91,463.30 L600.18,462.48 L603.46,461.65 L606.76,460.83 L610.06,460.00 L613.38,459.18 L616.70,458.35 L620.04,457.53 L623.39,456.70 L626.75,455.87 L630.11,455.05 L633.49,454.22 L636.88,453.40 L640.29,452.57 L643.70,451.75 L647.12,450.92 L650.56,450.09 L654.00,449.27 L657.46,448.44 L660.92,447.61 L664.40,446.79 L667.89,445.96 L671.38,445.13 L674.89,444.31 L678.41,443.48 L681.94,442.65 L685.49,441.83 L689.04,441.00 L692.60,440.17 L696.18,439.35 L699.76,438.52 L703.36,437.69 L706.96,436.86 L710.58,436.04 L714.21,435.21 L717.85,434.38 L721.50,433.55 L725.16,432.73 L728.83,431.90 L732.51,431.07 L736.20,430.24 L739.90,429.41 L743.62,428.59 L747.34,427.76 L751.08,426.93 L754.83,426.10 L758.58,425.27 L762.35,424.44 L766.13,423.61 L769.92,422.79 L773.72,421.96 L777.53,421.13 L781.35,420.30 L785.19,419.47 L789.03,418.64 L792.88,417.81 L796.75,416.98 L800.62,416.15 L804.51,415.32 L808.41,414.49 L812.32,413.66 L816.24,412.83 L820.17,412.00 L824.11,411.17 L828.06,410.34 L832.02,409.51 L835.99,408.68 L839.98,407.85 L843.97,407.02 L847.98,406.19 L851.99,405.36 L856.02,404.53 L860.06,403.70 L864.10,402.87 L868.16,402.04 L872.23,401.20 L876.31,400.37 L880.41,399.54 L884.51,398.71 L888.62,397.88 L892.75,397.05 L896.88,396.22 L901.03,395.38 L905.18,394.55 L909.35,393.72 L913.53,392.89 L917.71,392.06 L921.91,391.22 L926.12,390.39 L930.34,389.56 L934.58,388.73 L938.82,387.89 L943.07,387.06 L947.34,386.23 L951.61,385.40 L955.90,384.56 L960.19,383.73 L964.50,382.90" stroke-width="3" stroke-dasharray="7 12" stroke-dashoffset="16.5"/>
</g>
<path d="M291.75,401.23 L291.75,401.22 L291.77,401.21 L291.79,401.20 L291.81,401.17 L291.85,401.15 L291.89,401.11 L291.95,401.07 L292.01,401.02 L292.07,400.96 L292.15,400.90 L292.23,400.83 L292.32,400.76 L292.42,400.68 L292.53,400.59 L292.65,400.49 L292.77,400.39 L292.90,400.29 L293.04,400.17 L293.19,400.05 L293.35,399.93 L293.51,399.79 L293.68,399.65 L293.86,399.51 L294.05,399.36 L294.24,399.20 L294.45,399.03 L294.66,398.86 L294.88,398.68 L295.10,398.50 L295.34,398.31 L295.58,398.11 L295.83,397.91 L296.09,397.70 L296.36,397.48 L296.64,397.26 L296.92,397.03 L297.21,396.80 L297.51,396.56 L297.82,396.31 L298.13,396.06 L298.46,395.80 L298.79,395.53 L299.13,395.26 L299.47,394.99 L299.83,394.70 L300.19,394.41 L300.56,394.12 L300.94,393.81 L301.33,393.50 L301.72,393.19 L302.13,392.87 L302.54,392.54 L302.96,392.21 L303.38,391.87 L303.82,391.53 L304.26,391.18 L304.71,390.82 L305.17,390.46 L305.64,390.09 L306.11,389.72 L306.59,389.34 L307.08,388.95 L307.58,388.56 L308.09,388.16 L308.60,387.76 L309.13,387.35 L309.66,386.94 L310.20,386.52 L310.74,386.09 L311.30,385.66 L311.86,385.23 L312.43,384.78 L313.01,384.33 L313.59,383.88 L314.19,383.42 L314.79,382.96 L315.40,382.49 L316.02,382.01 L316.65,381.53 L317.28,381.04 L317.92,380.55 L318.57,380.06 L319.23,379.55 L319.90,379.05 L320.57,378.53 L321.25,378.01 L321.94,377.49 L322.64,376.96 L323.35,376.43 L324.06,375.89 L324.78,375.34 L325.51,374.79 L326.25,374.24 L327.00,373.68 L327.75,373.12 L328.51,372.55 L329.28,371.97 L330.06,371.39 L330.85,370.81 L331.64,370.22 L332.44,369.62 L333.25,369.02 L334.07,368.42 L334.90,367.81 L335.73,367.20 L336.57,366.58 L337.42,365.95 L338.28,365.33 L339.14,364.69 L340.02,364.06 L340.90,363.42 L341.79,362.77 L342.69,362.12 L343.59,361.46 L344.51,360.80 L345.43,360.14 L346.36,359.47 L347.29,358.79 L348.24,358.12 L349.19,357.43 L350.15,356.75 L351.12,356.06 L352.10,355.36 L353.09,354.66 L354.08,353.96 L355.08,353.25 L356.09,352.53 L357.11,351.82 L358.13,351.10 L359.17,350.37 L360.21,349.64 L361.26,348.91 L362.31,348.17 L363.38,347.43 L364.45,346.68 L365.53,345.94 L366.62,345.18 L367.72,344.42 L368.82,343.66 L369.94,342.90 L371.06,342.13 L372.19,341.36 L373.32,340.58 L374.47,339.80 L375.62,339.01 L376.78,338.23 L377.95,337.43 L379.13,336.64 L380.31,335.84 L381.50,335.03 L382.70,334.23 L383.91,333.42 L385.13,332.60 L386.35,331.79 L387.59,330.97 L388.83,330.14 L390.08,329.31 L391.33,328.48 L392.60,327.65 L393.87,326.81 L395.15,325.97 L396.44,325.12 L397.74,324.27 L399.04,323.42 L400.35,322.57 L401.67,321.71 L403.00,320.84 L404.34,319.98 L405.68,319.11 L407.03,318.24 L408.39,317.36 L409.76,316.49 L411.14,315.61 L412.52,314.72 L413.92,313.83 L415.32,312.94 L416.72,312.05 L418.14,311.15 L419.56,310.25 L421.00,309.35 L422.44,308.45 L423.88,307.54 L425.34,306.63 L426.80,305.71 L428.28,304.79 L429.76,303.87 L431.24,302.95 L432.74,302.03 L434.24,301.10 L435.76,300.16 L437.27,299.23 L438.80,298.29 L440.34,297.35 L441.88,296.41 L443.43,295.47 L444.99,294.52 L446.56,293.57 L448.14,292.61 L449.72,291.66 L451.31,290.70 L452.91,289.74 L454.52,288.77 L456.14,287.81 L457.76,286.84 L459.39,285.87 L461.03,284.89 L462.68,283.92 L464.33,282.94 L466.00,281.96 L467.67,280.97 L469.35,279.99 L471.03,279.00 L472.73,278.01 L474.43,277.01 L476.14,276.02 L477.86,275.02 L479.59,274.02 L481.33,273.01 L483.07,272.01 L484.82,271.00 L486.58,269.99 L488.35,268.98 L490.12,267.97 L491.91,266.95 L493.70,265.93 L495.50,264.91 L497.30,263.89 L499.12,262.86 L500.94,261.83 L502.77,260.80 L504.61,259.77 L506.46,258.74 L508.31,257.70 L510.18,256.66 L512.05,255.62 L513.92,254.58 L515.81,253.54 L517.71,252.49 L519.61,251.44 L521.52,250.39 L523.44,249.34 L525.37,248.29 L527.30,247.23 L529.24,246.17 L531.19,245.11 L533.15,244.05 L535.12,242.99 L537.09,241.92 L539.08,240.85 L541.07,239.79 L543.06,238.71 L545.07,237.64 L547.09,236.57 L549.11,235.49 L551.14,234.41 L553.18,233.33 L555.22,232.25 L557.28,231.17 L559.34,230.08 L561.41,228.99 L563.49,227.90 L565.58,226.81 L567.67,225.72 L569.77,224.63 L571.88,223.53 L574.00,222.43 L576.13,221.33 L578.26,220.23 L580.40,219.13 L582.55,218.03 L584.71,216.92 L586.88,215.81 L589.05,214.70 L591.23,213.59 L593.42,212.48 L595.62,211.37 L597.83,210.25 L600.04,209.14 L602.26,208.02 L604.49,206.90 L606.73,205.78 L608.98,204.65 L611.23,203.53 L613.49,202.40 L615.76,201.28 L618.04,200.15 L620.33,199.02 L622.62,197.89 L624.92,196.75 L627.23,195.62 L629.55,194.48 L631.87,193.35 L634.21,192.21 L636.55,191.07 L638.90,189.93 L641.26,188.78 L643.62,187.64 L645.99,186.49 L648.38,185.35 L650.77,184.20 L653.16,183.05 L655.57,181.90 L657.98,180.75 L660.40,179.59 L662.83,178.44 L665.27,177.28 L667.72,176.12 L670.17,174.97 L672.63,173.81 L675.10,172.65 L677.58,171.48 L680.06,170.32 L682.55,169.16 L685.06,167.99 L687.56,166.82 L690.08,165.65 L692.61,164.48 L695.14,163.31 L697.68,162.14 L700.23,160.97 L702.79,159.79 L705.35,158.62 L707.92,157.44 L710.51,156.26 L713.09,155.09 L715.69,153.91 L718.30,152.72 L720.91,151.54 L723.53,150.36 L726.16,149.17 L728.80,147.99 L731.44,146.80 L734.09,145.62 L736.75,144.43 L739.42,143.24 L742.10,142.05 L744.78,140.85 L747.48,139.66 L750.18,138.47 L752.89,137.27 L755.60,136.08 L758.33,134.88 L761.06,133.68 L763.80,132.48 L766.55,131.28 L769.30,130.08 L772.07,128.88 L774.84,127.68 L777.62,126.47 L780.41,125.27 L783.21,124.06 L786.01,122.85 L788.82,121.65 L791.64,120.44 L794.47,119.23 L797.31,118.02 L800.15,116.81 L803.00,115.59 L805.86,114.38 L808.73,113.17 L811.61,111.95 L814.49,110.73 L817.38,109.52 L820.28,108.30 L823.19,107.08 L826.11,105.86 L829.03,104.64 L831.96,103.42 L834.90,102.20 L837.85,100.97 L840.81,99.75 L843.77,98.52 L846.74,97.30 L849.72,96.07 L852.71,94.84 L855.71,93.62 L858.71,92.39 L861.72,91.16 L864.74,89.93 L867.77,88.70 L870.81,87.46 L873.85,86.23 L876.90,85.00 L879.96,83.76 L883.03,82.53 L886.10,81.29 L889.19,80.05 L892.28,78.82 L895.38,77.58 L898.49,76.34 L901.60,75.10 L904.73,73.86 L907.86,72.62 L911.00,71.37 L914.14,70.13 L917.30,68.89 L920.46,67.64 L923.63,66.40 L926.81,65.15 L930.00,63.90" stroke="#fff" stroke-width="1.3" stroke-dasharray="1.3 17" fill="none" clip-path="url(#pc)"/>
<rect x="714.5" y="128" width="24.8" height="40" fill="#fff"/>
<rect x="792" y="285" width="21.5" height="30" fill="#fff"/>
<rect x="720.6" y="145.8" width="12.9" height="13.2" fill="#fff" stroke="#000" stroke-width="1.7"/>
<rect x="849" y="240" width="30.3" height="23" fill="#fff"/><rect x="854.4" y="245.6" width="12.9" height="12.9" fill="#fff" stroke="#000" stroke-width="1.7"/>
<rect x="795.5" y="294" width="14.8" height="14.6" fill="#000"/>
<rect x="812" y="398" width="49" height="21" fill="#fff"/><rect x="828.6" y="401.6" width="14.4" height="14.2" fill="#000"/>
<g stroke="#000" stroke-width="2.6" fill="#000">
<path d="M823.6,176.4 L776.5,95" fill="none"/>
<path d="M759.6,69.6 L768.8,95.6 L782,95 Z" stroke-width="0.8"/>
<path d="M950.3,312.5 L921.5,261" fill="none"/>
<path d="M904.6,236 L914.5,261.6 L927,260.9 Z" stroke-width="1"/>
</g>
<rect x="963.6" y="333.5" width="1.8" height="5.5" fill="#000"/>
<path d="M122.7,92.4 H211.3" stroke="#000" stroke-width="3.1"/>
<path d="M185.4,86 H189.8 V87.6 H196.6 V89.3 H203 V95.4 H196.6 V96.8 H189.8 V98.6 H185.4 Z" fill="#000"/>
<text transform="translate(430.50,44.30) scale(0.9950,1)" x="-1.62" y="0" font-family="Liberation Serif" font-size="45.10" fill="#000" xml:space="preserve">d=1.00 mm</text>
<text transform="translate(13.30,72.60) scale(1.0496,1)" x="-3.03" y="0" font-family="Liberation Serif" font-size="34.44" fill="#000" xml:space="preserve">1.00</text>
<text transform="translate(11.70,235.60) scale(1.0172,1)" x="-1.31" y="0" font-family="Liberation Serif" font-size="34.44" fill="#000" xml:space="preserve">0.75</text>
<text transform="translate(11.70,397.80) scale(1.0512,1)" x="-1.31" y="0" font-family="Liberation Serif" font-size="34.44" fill="#000" xml:space="preserve">0.50</text>
<text transform="translate(11.70,561.50) scale(1.0172,1)" x="-1.31" y="0" font-family="Liberation Serif" font-size="34.44" fill="#000" xml:space="preserve">0.25</text>
<text transform="translate(11.70,723.20) scale(1.0512,1)" x="-1.31" y="0" font-family="Liberation Serif" font-size="34.44" fill="#000" xml:space="preserve">0.00</text>
<text transform="translate(53.40,776.90) scale(1.0321,1)" x="-3.11" y="0" font-family="Liberation Serif" font-size="35.34" fill="#000" xml:space="preserve">1.0000</text>
<text transform="translate(339.80,776.90) scale(1.0324,1)" x="-3.11" y="0" font-family="Liberation Serif" font-size="35.34" fill="#000" xml:space="preserve">1.0005</text>
<text transform="translate(628.80,776.90) scale(1.0116,1)" x="-3.11" y="0" font-family="Liberation Serif" font-size="35.34" fill="#000" xml:space="preserve">1.0010</text>
<text transform="translate(917.00,776.30) scale(1.0273,1)" x="-3.04" y="0" font-family="Liberation Serif" font-size="34.59" fill="#000" xml:space="preserve">1.0015</text>
<text x="34.44" y="133.60" font-family="Liberation Serif" font-size="38.22" fill="#000" xml:space="preserve">r</text>
<text x="30.90" y="174.30" font-family="Liberation Serif" font-size="37.86" fill="#000" xml:space="preserve">R</text>
<text transform="translate(800.60,756.50) scale(1.0228,1)" x="-0.60" y="0" font-family="Liberation Serif" font-size="33.29" fill="#000" xml:space="preserve">T(r)</text>
<text x="811.27" y="799.50" font-family="Liberation Serif" font-size="35.27" fill="#000" xml:space="preserve">T</text>
<text x="830.52" y="804.30" font-family="Liberation Sans" font-size="21.00" fill="#000" xml:space="preserve">c</text>
<text transform="translate(487.10,881.30) scale(1.0237,1)" x="-1.67" y="0" font-family="Liberation Serif" font-size="38.04" fill="#000" xml:space="preserve">(a)</text>
<text x="224.02" y="96.60" font-family="Liberation Serif" font-size="32.70" fill="#000" xml:space="preserve">:</text>
<text transform="translate(241.10,96.60) scale(1.0603,1)" x="-0.95" y="0" font-family="Liberation Serif" font-size="32.70" fill="#000" xml:space="preserve">Re</text>
<text x="280.17" y="109.50" font-family="Liberation Serif" font-size="26.50" fill="#000" xml:space="preserve">1</text>
<text x="304.26" y="96.60" font-family="Liberation Serif" font-size="32.70" fill="#000" xml:space="preserve">,</text>
<text transform="translate(322.00,96.60) scale(0.9948,1)" x="-2.16" y="0" font-family="Liberation Serif" font-size="32.70" fill="#000" xml:space="preserve">......</text>
<text x="376.96" y="96.60" font-family="Liberation Serif" font-size="32.70" fill="#000" xml:space="preserve">,</text>
<text transform="translate(394.60,96.60) scale(1.1508,1)" x="-0.95" y="0" font-family="Liberation Serif" font-size="32.70" fill="#000" xml:space="preserve">Re</text>
<text x="435.99" y="103.70" font-family="Liberation Serif" font-size="26.50" fill="#000" xml:space="preserve">8</text>
<text transform="translate(124.00,141.40) scale(1.1099,1)" x="-0.95" y="0" font-family="Liberation Serif" font-size="32.70" fill="#000" xml:space="preserve">Re</text>
<text x="164.57" y="155.00" font-family="Liberation Serif" font-size="26.50" fill="#000" xml:space="preserve">1</text>
<path d="M186.7,126.3 h20.2 M186.7,132.9 h20.2" stroke="#000" stroke-width="1.6"/>
<text transform="translate(217.50,141.40) scale(1.1240,1)" x="-2.88" y="0" font-family="Liberation Serif" font-size="32.70" fill="#000" xml:space="preserve">100</text>
<text transform="translate(124.00,178.80) scale(1.1099,1)" x="-0.95" y="0" font-family="Liberation Serif" font-size="32.70" fill="#000" xml:space="preserve">Re</text>
<text x="164.83" y="189.30" font-family="Liberation Serif" font-size="26.50" fill="#000" xml:space="preserve">2</text>
<path d="M186.7,163.7 h20.2 M186.7,170.3 h20.2" stroke="#000" stroke-width="1.6"/>
<text transform="translate(216.50,178.80) scale(1.1000,1)" x="-1.90" y="0" font-family="Liberation Serif" font-size="32.70" fill="#000" xml:space="preserve">500</text>
<text transform="translate(124.00,216.80) scale(1.1099,1)" x="-0.95" y="0" font-family="Liberation Serif" font-size="32.70" fill="#000" xml:space="preserve">Re</text>
<text x="165.53" y="226.00" font-family="Liberation Serif" font-size="26.50" fill="#000" xml:space="preserve">3</text>
<path d="M186.7,201.7 h20.2 M186.7,208.3 h20.2" stroke="#000" stroke-width="1.6"/>
<text transform="translate(216.50,216.80) scale(1.1063,1)" x="-2.16" y="0" font-family="Liberation Serif" font-size="32.70" fill="#000" xml:space="preserve">750</text>
<text transform="translate(124.00,254.70) scale(1.1099,1)" x="-0.95" y="0" font-family="Liberation Serif" font-size="32.70" fill="#000" xml:space="preserve">Re</text>
<text x="166.27" y="262.70" font-family="Liberation Serif" font-size="26.50" fill="#000" xml:space="preserve">4</text>
<path d="M186.7,239.6 h20.2 M186.7,246.2 h20.2" stroke="#000" stroke-width="1.6"/>
<text transform="translate(218.00,254.70) scale(1.1048,1)" x="-2.88" y="0" font-family="Liberation Serif" font-size="32.70" fill="#000" xml:space="preserve">1000</text>
<text transform="translate(307.60,139.90) scale(1.1070,1)" x="-0.95" y="0" font-family="Liberation Serif" font-size="32.70" fill="#000" xml:space="preserve">Re</text>
<text x="348.56" y="146.60" font-family="Liberation Serif" font-size="26.50" fill="#000" xml:space="preserve">5</text>
<path d="M369.7,124.8 h20.2 M369.7,131.4 h20.2" stroke="#000" stroke-width="1.6"/>
<text transform="translate(400.50,139.90) scale(1.1178,1)" x="-2.88" y="0" font-family="Liberation Serif" font-size="32.70" fill="#000" xml:space="preserve">1250</text>
<text transform="translate(307.60,177.50) scale(1.1070,1)" x="-0.95" y="0" font-family="Liberation Serif" font-size="32.70" fill="#000" xml:space="preserve">Re</text>
<text x="347.16" y="184.60" font-family="Liberation Serif" font-size="26.50" fill="#000" xml:space="preserve">6</text>
<path d="M369.7,162.4 h20.2 M369.7,169.0 h20.2" stroke="#000" stroke-width="1.6"/>
<text transform="translate(400.50,177.50) scale(1.1178,1)" x="-2.88" y="0" font-family="Liberation Serif" font-size="32.70" fill="#000" xml:space="preserve">1500</text>
<text transform="translate(307.60,216.00) scale(1.1070,1)" x="-0.95" y="0" font-family="Liberation Serif" font-size="32.70" fill="#000" xml:space="preserve">Re</text>
<text x="348.05" y="222.70" font-family="Liberation Serif" font-size="26.50" fill="#000" xml:space="preserve">7</text>
<path d="M369.7,200.9 h20.2 M369.7,207.5 h20.2" stroke="#000" stroke-width="1.6"/>
<text transform="translate(400.50,216.00) scale(1.1178,1)" x="-2.88" y="0" font-family="Liberation Serif" font-size="32.70" fill="#000" xml:space="preserve">1750</text>
<text transform="translate(307.60,253.60) scale(1.1070,1)" x="-0.95" y="0" font-family="Liberation Serif" font-size="32.70" fill="#000" xml:space="preserve">Re</text>
<text x="348.79" y="260.30" font-family="Liberation Serif" font-size="26.50" fill="#000" xml:space="preserve">8</text>
<path d="M369.7,238.5 h20.2 M369.7,245.1 h20.2" stroke="#000" stroke-width="1.6"/>
<text transform="translate(400.50,253.60) scale(1.0922,1)" x="-1.44" y="0" font-family="Liberation Serif" font-size="32.70" fill="#000" xml:space="preserve">2000</text>
<rect x="616.5" y="559.5" width="13" height="13" fill="#fff" stroke="#000" stroke-width="1.6"/>
<rect x="615.6" y="596.6" width="14.7" height="14.1" fill="#000"/>
<rect x="640.5" y="556.8" width="3" height="3" fill="#888"/><rect x="640.5" y="570.1" width="3" height="3" fill="#888"/>
<text transform="translate(656.60,572.80) scale(1.0144,1)" x="-1.18" y="0" font-family="Liberation Serif" font-size="32.70" fill="#000" xml:space="preserve">q″</text>
<path d="M692.8,557.7 h20.5 M692.8,564.3 h20.5" stroke="#000" stroke-width="1.6"/>
<text transform="translate(723.00,572.80) scale(1.1325,1)" x="-2.88" y="0" font-family="Liberation Serif" font-size="32.70" fill="#000" xml:space="preserve">1000</text>
<text transform="translate(802.00,572.80) scale(1.0425,1)" x="-0.03" y="0" font-family="Liberation Serif" font-size="32.70" fill="#000" xml:space="preserve">W/m</text>
<text x="872.03" y="561.10" font-family="Liberation Serif" font-size="26.50" fill="#000" xml:space="preserve">2</text>
<rect x="640.5" y="593.9" width="3" height="3" fill="#888"/><rect x="640.5" y="607.2" width="3" height="3" fill="#888"/>
<text transform="translate(656.60,609.90) scale(1.0144,1)" x="-1.18" y="0" font-family="Liberation Serif" font-size="32.70" fill="#000" xml:space="preserve">q″</text>
<path d="M692.8,594.8 h20.5 M692.8,601.4 h20.5" stroke="#000" stroke-width="1.6"/>
<text transform="translate(723.00,609.90) scale(1.1065,1)" x="-1.44" y="0" font-family="Liberation Serif" font-size="32.70" fill="#000" xml:space="preserve">2000</text>
<text transform="translate(802.00,609.90) scale(1.0425,1)" x="-0.03" y="0" font-family="Liberation Serif" font-size="32.70" fill="#000" xml:space="preserve">W/m</text>
<text x="872.03" y="598.20" font-family="Liberation Serif" font-size="26.50" fill="#000" xml:space="preserve">2</text>
<path d="M556.2,654 H564.5 M572.8,654 H581.1 M587.8,654 H595.6 M602.3,654 H610.4 M617.2,654 H627.2" stroke="#000" stroke-width="3"/>
<rect x="641" y="644.4" width="2.6" height="2.6" fill="#999"/><rect x="641" y="657.7" width="2.6" height="2.6" fill="#999"/>
<text transform="translate(654.60,649.00) scale(1.0433,1)" x="-0.95" y="0" font-family="Liberation Serif" font-size="32.63" fill="#000" xml:space="preserve">Laminar CHF</text>
<text transform="translate(653.60,686.90) scale(1.1290,1)" x="-0.90" y="0" font-family="Liberation Serif" font-size="31.11" fill="#000" xml:space="preserve">Profile (Equation 15)</text>
<path d="M20.3,138.9 H66.5 M793.6,769.1 H859.7" stroke="#000" stroke-width="2"/>
<path d="M352.5,54.4 H704" stroke="#000" stroke-width="3"/>
</svg>
</body></html>
